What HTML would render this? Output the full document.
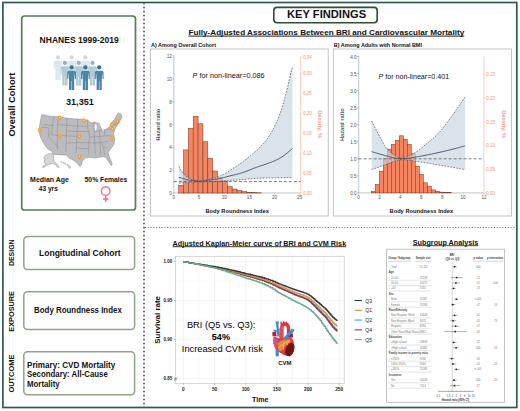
<!DOCTYPE html>
<html><head><meta charset="utf-8"><style>
html,body{margin:0;padding:0;background:#fff;width:520px;height:411px;overflow:hidden}
svg{display:block}
text{font-family:"Liberation Sans", sans-serif}
</style></head><body>
<svg width="520" height="411" viewBox="0 0 520 411" font-family='"Liberation Sans", sans-serif'>
<rect x="0" y="0" width="520" height="411" fill="#fff"/>
<rect x="21.7" y="16.0" width="113.8" height="194.0" rx="2.8" ry="2.8" fill="none" stroke="#557b57" stroke-width="1.7"/>
<rect x="23.8" y="236.4" width="110.8" height="33.0" rx="3.6" ry="3.6" fill="none" stroke="#8fa38a" stroke-width="1.5"/>
<rect x="23.8" y="291.8" width="110.8" height="37.6" rx="3.6" ry="3.6" fill="none" stroke="#8fa38a" stroke-width="1.5"/>
<rect x="23.8" y="351.7" width="110.8" height="43.0" rx="3.6" ry="3.6" fill="none" stroke="#8fa38a" stroke-width="1.5"/>
<text transform="translate(15.0,136.6) rotate(-90)" font-size="9.2" font-weight="bold" fill="#111" text-anchor="start" textLength="63.8" lengthAdjust="spacingAndGlyphs">Overall Cohort</text>
<text transform="translate(13.9,266.1) rotate(-90)" font-size="7.0" font-weight="bold" fill="#111" text-anchor="start" textLength="26.7" lengthAdjust="spacingAndGlyphs">DESIGN</text>
<text transform="translate(13.9,331.7) rotate(-90)" font-size="7.0" font-weight="bold" fill="#111" text-anchor="start" textLength="40.7" lengthAdjust="spacingAndGlyphs">EXPOSURE</text>
<text transform="translate(13.9,392.6) rotate(-90)" font-size="7.0" font-weight="bold" fill="#111" text-anchor="start" textLength="38.0" lengthAdjust="spacingAndGlyphs">OUTCOME</text>
<text x="39.6" y="42.9" font-size="8.5" font-weight="bold" fill="#111" text-anchor="start" textLength="79.2" lengthAdjust="spacingAndGlyphs">NHANES 1999-2019</text>
<g fill="#dbe6ea">
<circle cx="58.0" cy="57.4" r="2.15" fill="#cfdbe0"/>
<path d="M55.4,60.699999999999996 L60.6,60.699999999999996 Q62.4,60.699999999999996 62.4,62.49999999999999 L62.4,68.6 Q62.4,69.19999999999999 61.85,69.19999999999999 Q61.3,69.19999999999999 61.3,68.6 L61.3,63.49999999999999 L61.0,63.49999999999999 L60.6,69.69999999999999 L60.6,79.5 Q60.6,80.0 60.1,80.0 L58.7,80.0 Q58.2,80.0 58.2,79.5 L58.2,70.89999999999999 L57.8,70.89999999999999 L57.8,79.5 Q57.8,80.0 57.3,80.0 L55.9,80.0 Q55.4,80.0 55.4,79.5 L55.4,69.69999999999999 L55.0,63.49999999999999 L54.7,63.49999999999999 L54.7,68.6 Q54.7,69.19999999999999 54.15,69.19999999999999 Q53.6,69.19999999999999 53.6,68.6 L53.6,62.49999999999999 Q53.6,60.699999999999996 55.4,60.699999999999996 Z"/>
</g>
<g fill="#dbe6ea">
<circle cx="71.6" cy="57.4" r="2.15" fill="#cfdbe0"/>
<path d="M69.0,60.699999999999996 L74.19999999999999,60.699999999999996 Q76.0,60.699999999999996 76.0,62.49999999999999 L76.0,68.6 Q76.0,69.19999999999999 75.44999999999999,69.19999999999999 Q74.89999999999999,69.19999999999999 74.89999999999999,68.6 L74.89999999999999,63.49999999999999 L74.6,63.49999999999999 L74.19999999999999,69.69999999999999 L74.19999999999999,79.5 Q74.19999999999999,80.0 73.69999999999999,80.0 L72.3,80.0 Q71.8,80.0 71.8,79.5 L71.8,70.89999999999999 L71.39999999999999,70.89999999999999 L71.39999999999999,79.5 Q71.39999999999999,80.0 70.89999999999999,80.0 L69.5,80.0 Q69.0,80.0 69.0,79.5 L69.0,69.69999999999999 L68.6,63.49999999999999 L68.3,63.49999999999999 L68.3,68.6 Q68.3,69.19999999999999 67.75,69.19999999999999 Q67.19999999999999,69.19999999999999 67.19999999999999,68.6 L67.19999999999999,62.49999999999999 Q67.19999999999999,60.699999999999996 69.0,60.699999999999996 Z"/>
</g>
<g fill="#dbe6ea">
<circle cx="85.3" cy="57.4" r="2.15" fill="#cfdbe0"/>
<path d="M82.7,60.699999999999996 L87.89999999999999,60.699999999999996 Q89.7,60.699999999999996 89.7,62.49999999999999 L89.7,68.6 Q89.7,69.19999999999999 89.14999999999999,69.19999999999999 Q88.6,69.19999999999999 88.6,68.6 L88.6,63.49999999999999 L88.3,63.49999999999999 L87.89999999999999,69.69999999999999 L87.89999999999999,79.5 Q87.89999999999999,80.0 87.39999999999999,80.0 L86.0,80.0 Q85.5,80.0 85.5,79.5 L85.5,70.89999999999999 L85.1,70.89999999999999 L85.1,79.5 Q85.1,80.0 84.6,80.0 L83.2,80.0 Q82.7,80.0 82.7,79.5 L82.7,69.69999999999999 L82.3,63.49999999999999 L82.0,63.49999999999999 L82.0,68.6 Q82.0,69.19999999999999 81.45,69.19999999999999 Q80.89999999999999,69.19999999999999 80.89999999999999,68.6 L80.89999999999999,62.49999999999999 Q80.89999999999999,60.699999999999996 82.7,60.699999999999996 Z"/>
</g>
<g fill="#b0cbd6">
<circle cx="64.9" cy="62.9" r="2.15" fill="#95b2c1"/>
<path d="M62.300000000000004,66.2 L67.5,66.2 Q69.30000000000001,66.2 69.30000000000001,68.0 L69.30000000000001,74.10000000000001 Q69.30000000000001,74.7 68.75,74.7 Q68.2,74.7 68.2,74.10000000000001 L68.2,69.0 L67.9,69.0 L67.5,75.2 L67.5,85.0 Q67.5,85.5 67.0,85.5 L65.60000000000001,85.5 Q65.10000000000001,85.5 65.10000000000001,85.0 L65.10000000000001,76.4 L64.7,76.4 L64.7,85.0 Q64.7,85.5 64.2,85.5 L62.800000000000004,85.5 Q62.300000000000004,85.5 62.300000000000004,85.0 L62.300000000000004,75.2 L61.900000000000006,69.0 L61.60000000000001,69.0 L61.60000000000001,74.10000000000001 Q61.60000000000001,74.7 61.050000000000004,74.7 Q60.50000000000001,74.7 60.50000000000001,74.10000000000001 L60.50000000000001,68.0 Q60.50000000000001,66.2 62.300000000000004,66.2 Z"/>
</g>
<g fill="#b0cbd6">
<circle cx="78.7" cy="62.9" r="2.15" fill="#95b2c1"/>
<path d="M76.10000000000001,66.2 L81.3,66.2 Q83.10000000000001,66.2 83.10000000000001,68.0 L83.10000000000001,74.10000000000001 Q83.10000000000001,74.7 82.55,74.7 Q82.0,74.7 82.0,74.10000000000001 L82.0,69.0 L81.7,69.0 L81.3,75.2 L81.3,85.0 Q81.3,85.5 80.8,85.5 L79.4,85.5 Q78.9,85.5 78.9,85.0 L78.9,76.4 L78.5,76.4 L78.5,85.0 Q78.5,85.5 78.0,85.5 L76.60000000000001,85.5 Q76.10000000000001,85.5 76.10000000000001,85.0 L76.10000000000001,75.2 L75.7,69.0 L75.4,69.0 L75.4,74.10000000000001 Q75.4,74.7 74.85000000000001,74.7 Q74.3,74.7 74.3,74.10000000000001 L74.3,68.0 Q74.3,66.2 76.10000000000001,66.2 Z"/>
</g>
<g fill="#b0cbd6">
<circle cx="92.5" cy="62.9" r="2.15" fill="#95b2c1"/>
<path d="M89.9,66.2 L95.1,66.2 Q96.9,66.2 96.9,68.0 L96.9,74.10000000000001 Q96.9,74.7 96.35,74.7 Q95.8,74.7 95.8,74.10000000000001 L95.8,69.0 L95.5,69.0 L95.1,75.2 L95.1,85.0 Q95.1,85.5 94.6,85.5 L93.2,85.5 Q92.7,85.5 92.7,85.0 L92.7,76.4 L92.3,76.4 L92.3,85.0 Q92.3,85.5 91.8,85.5 L90.4,85.5 Q89.9,85.5 89.9,85.0 L89.9,75.2 L89.5,69.0 L89.2,69.0 L89.2,74.10000000000001 Q89.2,74.7 88.65,74.7 Q88.1,74.7 88.1,74.10000000000001 L88.1,68.0 Q88.1,66.2 89.9,66.2 Z"/>
</g>
<g fill="#4c84ac">
<circle cx="71.6" cy="67.4" r="2.15" fill="#3f7196"/>
<path d="M69.0,70.7 L74.19999999999999,70.7 Q76.0,70.7 76.0,72.5 L76.0,78.60000000000001 Q76.0,79.2 75.44999999999999,79.2 Q74.89999999999999,79.2 74.89999999999999,78.60000000000001 L74.89999999999999,73.5 L74.6,73.5 L74.19999999999999,79.7 L74.19999999999999,89.5 Q74.19999999999999,90.0 73.69999999999999,90.0 L72.3,90.0 Q71.8,90.0 71.8,89.5 L71.8,80.9 L71.39999999999999,80.9 L71.39999999999999,89.5 Q71.39999999999999,90.0 70.89999999999999,90.0 L69.5,90.0 Q69.0,90.0 69.0,89.5 L69.0,79.7 L68.6,73.5 L68.3,73.5 L68.3,78.60000000000001 Q68.3,79.2 67.75,79.2 Q67.19999999999999,79.2 67.19999999999999,78.60000000000001 L67.19999999999999,72.5 Q67.19999999999999,70.7 69.0,70.7 Z"/>
</g>
<g fill="#4c84ac">
<circle cx="85.4" cy="67.4" r="2.15" fill="#3f7196"/>
<path d="M82.80000000000001,70.7 L88.0,70.7 Q89.80000000000001,70.7 89.80000000000001,72.5 L89.80000000000001,78.60000000000001 Q89.80000000000001,79.2 89.25,79.2 Q88.7,79.2 88.7,78.60000000000001 L88.7,73.5 L88.4,73.5 L88.0,79.7 L88.0,89.5 Q88.0,90.0 87.5,90.0 L86.10000000000001,90.0 Q85.60000000000001,90.0 85.60000000000001,89.5 L85.60000000000001,80.9 L85.2,80.9 L85.2,89.5 Q85.2,90.0 84.7,90.0 L83.30000000000001,90.0 Q82.80000000000001,90.0 82.80000000000001,89.5 L82.80000000000001,79.7 L82.4,73.5 L82.10000000000001,73.5 L82.10000000000001,78.60000000000001 Q82.10000000000001,79.2 81.55000000000001,79.2 Q81.0,79.2 81.0,78.60000000000001 L81.0,72.5 Q81.0,70.7 82.80000000000001,70.7 Z"/>
</g>
<g fill="#4c84ac">
<circle cx="99.2" cy="67.4" r="2.15" fill="#3f7196"/>
<path d="M96.60000000000001,70.7 L101.8,70.7 Q103.60000000000001,70.7 103.60000000000001,72.5 L103.60000000000001,78.60000000000001 Q103.60000000000001,79.2 103.05,79.2 Q102.5,79.2 102.5,78.60000000000001 L102.5,73.5 L102.2,73.5 L101.8,79.7 L101.8,89.5 Q101.8,90.0 101.3,90.0 L99.9,90.0 Q99.4,90.0 99.4,89.5 L99.4,80.9 L99.0,80.9 L99.0,89.5 Q99.0,90.0 98.5,90.0 L97.10000000000001,90.0 Q96.60000000000001,90.0 96.60000000000001,89.5 L96.60000000000001,79.7 L96.2,73.5 L95.9,73.5 L95.9,78.60000000000001 Q95.9,79.2 95.35000000000001,79.2 Q94.8,79.2 94.8,78.60000000000001 L94.8,72.5 Q94.8,70.7 96.60000000000001,70.7 Z"/>
</g>
<text x="66.0" y="105.4" font-size="9.9" font-weight="bold" fill="#111" text-anchor="start" textLength="27.8" lengthAdjust="spacingAndGlyphs">31,351</text>
<polygon points="41.60,114.90 43.80,114.70 47.20,115.80 52.80,116.40 58.40,116.80 64.00,117.70 69.60,118.60 75.80,119.00 81.90,119.30 87.80,120.30 89.00,121.40 91.20,123.10 93.40,122.40 94.80,121.90 96.80,123.00 99.60,123.40 99.20,124.80 101.30,128.20 101.40,131.00 103.60,131.20 106.40,129.00 109.70,126.80 111.40,122.60 114.70,119.20 117.00,114.70 118.60,113.00 120.90,114.00 122.00,117.00 119.20,122.40 117.00,125.80 114.70,129.30 113.60,133.80 114.20,137.10 114.70,140.50 113.60,145.00 110.20,149.40 108.00,152.80 109.80,158.10 112.20,163.50 111.40,165.60 108.30,161.40 106.00,157.60 103.70,156.60 99.10,157.30 94.50,158.10 89.10,157.30 85.20,158.10 82.20,161.20 81.40,165.00 79.80,166.50 77.50,163.50 73.70,160.40 69.10,158.10 66.80,155.00 62.20,155.00 52.90,154.20 51.70,151.10 48.30,149.40 45.50,146.10 42.70,141.60 40.50,137.10 39.10,131.50 39.40,127.00 40.50,120.30" fill="#bcbcc0" stroke="#85858a" stroke-width="0.5" stroke-linejoin="round"/>
<polygon points="94.7,124.4 96.4,124.2 96.7,127.2 96.1,130.8 95.0,130.4 94.6,127.5" fill="#fff"/>
<polyline points="43.60,124.60 53.60,125.60" fill="none" stroke="#85858a" stroke-width="0.45" stroke-linejoin="round"/>
<polyline points="53.60,116.30 52.60,125.60 51.60,134.60" fill="none" stroke="#85858a" stroke-width="0.45" stroke-linejoin="round"/>
<polyline points="41.00,127.00 49.00,128.00 48.50,136.50 58.50,147.50" fill="none" stroke="#85858a" stroke-width="0.45" stroke-linejoin="round"/>
<polyline points="51.60,134.60 57.60,135.40" fill="none" stroke="#85858a" stroke-width="0.45" stroke-linejoin="round"/>
<polyline points="57.60,124.60 57.20,135.40 57.40,149.50" fill="none" stroke="#85858a" stroke-width="0.45" stroke-linejoin="round"/>
<polyline points="58.50,117.20 57.60,124.60 66.80,125.40 77.50,126.00 87.60,126.40" fill="none" stroke="#85858a" stroke-width="0.45" stroke-linejoin="round"/>
<polyline points="67.00,117.90 66.80,125.40 66.40,135.60 65.80,151.50" fill="none" stroke="#85858a" stroke-width="0.45" stroke-linejoin="round"/>
<polyline points="57.20,135.40 66.40,135.80 76.80,136.40" fill="none" stroke="#85858a" stroke-width="0.45" stroke-linejoin="round"/>
<polyline points="77.60,118.90 77.50,126.00 76.80,136.40 76.60,142.60 76.00,152.60" fill="none" stroke="#85858a" stroke-width="0.45" stroke-linejoin="round"/>
<polyline points="66.20,143.00 76.60,142.60 88.60,142.60" fill="none" stroke="#85858a" stroke-width="0.45" stroke-linejoin="round"/>
<polyline points="65.80,131.00 78.00,131.40 89.60,131.60" fill="none" stroke="#85858a" stroke-width="0.45" stroke-linejoin="round"/>
<polyline points="87.60,119.60 87.60,126.40 88.40,131.60 89.60,137.00 88.60,142.60 88.90,148.60 88.60,154.40" fill="none" stroke="#85858a" stroke-width="0.45" stroke-linejoin="round"/>
<polyline points="76.00,147.60 82.60,148.60 88.90,148.60" fill="none" stroke="#85858a" stroke-width="0.45" stroke-linejoin="round"/>
<polyline points="89.60,137.00 97.60,136.60 104.60,136.00 111.40,135.60" fill="none" stroke="#85858a" stroke-width="0.45" stroke-linejoin="round"/>
<polyline points="93.60,122.00 94.00,131.60 94.60,137.00 94.80,144.00 95.40,154.40" fill="none" stroke="#85858a" stroke-width="0.45" stroke-linejoin="round"/>
<polyline points="88.60,142.60 94.80,143.00 101.60,142.40 108.80,141.00" fill="none" stroke="#85858a" stroke-width="0.45" stroke-linejoin="round"/>
<polyline points="99.40,130.60 99.60,136.80 100.20,143.00 100.60,154.80" fill="none" stroke="#85858a" stroke-width="0.45" stroke-linejoin="round"/>
<polyline points="94.00,131.60 99.40,130.60 104.60,129.60 110.60,129.00" fill="none" stroke="#85858a" stroke-width="0.45" stroke-linejoin="round"/>
<polyline points="104.60,129.60 104.60,136.00" fill="none" stroke="#85858a" stroke-width="0.45" stroke-linejoin="round"/>
<polyline points="101.60,142.40 103.60,147.60 104.60,155.00" fill="none" stroke="#85858a" stroke-width="0.45" stroke-linejoin="round"/>
<polyline points="103.60,147.60 107.20,147.60" fill="none" stroke="#85858a" stroke-width="0.45" stroke-linejoin="round"/>
<polyline points="110.60,129.00 113.60,128.40" fill="none" stroke="#85858a" stroke-width="0.45" stroke-linejoin="round"/>
<polyline points="112.40,124.60 116.60,124.40" fill="none" stroke="#85858a" stroke-width="0.45" stroke-linejoin="round"/>
<polyline points="114.80,121.40 115.40,126.00" fill="none" stroke="#85858a" stroke-width="0.45" stroke-linejoin="round"/>
<polygon points="45.60,155.20 49.40,153.60 52.90,154.30 53.60,156.00 53.80,161.40 55.60,162.60 59.10,166.80 58.40,168.00 55.00,164.60 52.20,163.40 48.60,164.60 43.00,167.60 42.20,167.00 45.80,164.00 44.00,162.20 44.80,159.60 43.80,157.60" fill="#d6d6d8" stroke="#8a8a8e" stroke-width="0.5" stroke-linejoin="round"/>
<circle cx="61.2" cy="161.8" r="0.55" fill="#d6d6d8" stroke="#8a8a8e" stroke-width="0.4"/>
<circle cx="63.2" cy="162.6" r="0.6" fill="#d6d6d8" stroke="#8a8a8e" stroke-width="0.4"/>
<circle cx="65.2" cy="163.8" r="0.75" fill="#d6d6d8" stroke="#8a8a8e" stroke-width="0.4"/>
<circle cx="67.6" cy="165.2" r="0.85" fill="#d6d6d8" stroke="#8a8a8e" stroke-width="0.4"/>
<circle cx="69.6" cy="167.2" r="1.1" fill="#d6d6d8" stroke="#8a8a8e" stroke-width="0.4"/>
<circle cx="59.6" cy="117.6" r="2.5" fill="#f6b45c" fill-opacity="0.35"/>
<path d="M59.6,120.8 C58.9,119.6 57.7,118.8 57.7,117.6 A1.9,1.9 0 1 1 61.5,117.6 C61.5,118.8 60.300000000000004,119.6 59.6,120.8 Z" fill="#ef9a32"/>
<circle cx="59.6" cy="117.5" r="0.7" fill="#fde6c0"/>
<circle cx="83.9" cy="120.3" r="2.5" fill="#f6b45c" fill-opacity="0.35"/>
<path d="M83.9,123.5 C83.2,122.3 82.0,121.5 82.0,120.3 A1.9,1.9 0 1 1 85.80000000000001,120.3 C85.80000000000001,121.5 84.60000000000001,122.3 83.9,123.5 Z" fill="#ef9a32"/>
<circle cx="83.9" cy="120.2" r="0.7" fill="#fde6c0"/>
<circle cx="39.9" cy="129.8" r="2.5" fill="#f6b45c" fill-opacity="0.35"/>
<path d="M39.9,133.0 C39.199999999999996,131.8 38.0,131.0 38.0,129.8 A1.9,1.9 0 1 1 41.8,129.8 C41.8,131.0 40.6,131.8 39.9,133.0 Z" fill="#ef9a32"/>
<circle cx="39.9" cy="129.70000000000002" r="0.7" fill="#fde6c0"/>
<circle cx="59.9" cy="136.0" r="2.5" fill="#f6b45c" fill-opacity="0.35"/>
<path d="M59.9,139.2 C59.199999999999996,138.0 58.0,137.2 58.0,136.0 A1.9,1.9 0 1 1 61.8,136.0 C61.8,137.2 60.6,138.0 59.9,139.2 Z" fill="#ef9a32"/>
<circle cx="59.9" cy="135.9" r="0.7" fill="#fde6c0"/>
<circle cx="79.6" cy="136.4" r="2.5" fill="#f6b45c" fill-opacity="0.35"/>
<path d="M79.6,139.6 C78.89999999999999,138.4 77.69999999999999,137.6 77.69999999999999,136.4 A1.9,1.9 0 1 1 81.5,136.4 C81.5,137.6 80.3,138.4 79.6,139.6 Z" fill="#ef9a32"/>
<circle cx="79.6" cy="136.3" r="0.7" fill="#fde6c0"/>
<circle cx="111.9" cy="124.8" r="2.5" fill="#f6b45c" fill-opacity="0.35"/>
<path d="M111.9,128.0 C111.2,126.8 110.0,126.0 110.0,124.8 A1.9,1.9 0 1 1 113.80000000000001,124.8 C113.80000000000001,126.0 112.60000000000001,126.8 111.9,128.0 Z" fill="#ef9a32"/>
<circle cx="111.9" cy="124.7" r="0.7" fill="#fde6c0"/>
<circle cx="112.4" cy="128.8" r="2.5" fill="#f6b45c" fill-opacity="0.35"/>
<path d="M112.4,132.0 C111.7,130.8 110.5,130.0 110.5,128.8 A1.9,1.9 0 1 1 114.30000000000001,128.8 C114.30000000000001,130.0 113.10000000000001,130.8 112.4,132.0 Z" fill="#ef9a32"/>
<circle cx="112.4" cy="128.70000000000002" r="0.7" fill="#fde6c0"/>
<circle cx="117.5" cy="121.4" r="2.5" fill="#f6b45c" fill-opacity="0.35"/>
<path d="M117.5,124.60000000000001 C116.8,123.4 115.6,122.60000000000001 115.6,121.4 A1.9,1.9 0 1 1 119.4,121.4 C119.4,122.60000000000001 118.2,123.4 117.5,124.60000000000001 Z" fill="#ef9a32"/>
<circle cx="117.5" cy="121.30000000000001" r="0.7" fill="#fde6c0"/>
<circle cx="111.9" cy="138.2" r="2.5" fill="#f6b45c" fill-opacity="0.35"/>
<path d="M111.9,141.39999999999998 C111.2,140.2 110.0,139.39999999999998 110.0,138.2 A1.9,1.9 0 1 1 113.80000000000001,138.2 C113.80000000000001,139.39999999999998 112.60000000000001,140.2 111.9,141.39999999999998 Z" fill="#ef9a32"/>
<circle cx="111.9" cy="138.1" r="0.7" fill="#fde6c0"/>
<circle cx="79.6" cy="156.6" r="2.5" fill="#f6b45c" fill-opacity="0.35"/>
<path d="M79.6,159.79999999999998 C78.89999999999999,158.6 77.69999999999999,157.79999999999998 77.69999999999999,156.6 A1.9,1.9 0 1 1 81.5,156.6 C81.5,157.79999999999998 80.3,158.6 79.6,159.79999999999998 Z" fill="#ef9a32"/>
<circle cx="79.6" cy="156.5" r="0.7" fill="#fde6c0"/>
<text x="30.1" y="181.9" font-size="7.0" font-weight="bold" fill="#111" text-anchor="start" textLength="38.8" lengthAdjust="spacingAndGlyphs">Median Age</text>
<text x="38.8" y="190.5" font-size="7.0" font-weight="bold" fill="#111" text-anchor="start" textLength="19.0" lengthAdjust="spacingAndGlyphs">43 yrs</text>
<text x="84.6" y="181.9" font-size="7.0" font-weight="bold" fill="#111" text-anchor="start" textLength="42.7" lengthAdjust="spacingAndGlyphs">50% Females</text>
<circle cx="105.7" cy="191.1" r="4.3" fill="none" stroke="#e36d86" stroke-width="1.35"/>
<line x1="105.7" y1="195.6" x2="105.7" y2="201.8" stroke="#e36d86" stroke-width="1.5"/>
<line x1="103.0" y1="199.0" x2="108.5" y2="199.0" stroke="#e36d86" stroke-width="1.5"/>
<text x="39.0" y="255.7" font-size="8.5" font-weight="bold" fill="#111" text-anchor="start" textLength="81.6" lengthAdjust="spacingAndGlyphs">Longitudinal Cohort</text>
<text x="34.1" y="312.6" font-size="8.9" font-weight="bold" fill="#111" text-anchor="start" textLength="87.7" lengthAdjust="spacingAndGlyphs">Body Roundness Index</text>
<text x="27.0" y="367.5" font-size="8.4" font-weight="bold" fill="#111" text-anchor="start" textLength="88.3" lengthAdjust="spacingAndGlyphs">Primary: CVD Mortality</text>
<text x="27.0" y="377.4" font-size="8.4" font-weight="bold" fill="#111" text-anchor="start" textLength="80.8" lengthAdjust="spacingAndGlyphs">Secondary: All-Cause</text>
<text x="27.0" y="387.1" font-size="8.4" font-weight="bold" fill="#111" text-anchor="start" textLength="32.7" lengthAdjust="spacingAndGlyphs">Mortality</text>
<line x1="144" y1="2.75" x2="144" y2="406.5" stroke="#333" stroke-width="1.4" stroke-dasharray="1.5,2.5"/>
<line x1="145" y1="227.5" x2="516" y2="227.5" stroke="#555" stroke-width="0.9" stroke-dasharray="1,1.77"/>
<rect x="273.8" y="7.4" width="103.4" height="15.3" rx="3.2" ry="3.2" fill="#fff" stroke="#2e4d33" stroke-width="1.6"/>
<text x="287.0" y="18.0" font-size="10.7" font-weight="bold" fill="#111" text-anchor="start" textLength="79.1" lengthAdjust="spacingAndGlyphs">KEY FINDINGS</text>
<text x="188.5" y="34.7" font-size="7.9" font-weight="bold" fill="#111" text-anchor="start" textLength="275.7" lengthAdjust="spacingAndGlyphs">Fully-Adjusted Associations Between BRI and Cardiovascular Mortality</text>
<line x1="188.5" y1="36.1" x2="464.2" y2="36.1" stroke="#111" stroke-width="0.95"/>
<text x="151.0" y="47.4" font-size="5.4" font-weight="bold" fill="#111" text-anchor="start" textLength="65.0" lengthAdjust="spacingAndGlyphs">A) Among Overall Cohort</text>
<text x="333.8" y="47.3" font-size="5.4" font-weight="bold" fill="#111" text-anchor="start" textLength="88.1" lengthAdjust="spacingAndGlyphs">B) Among Adults with Normal BMI</text>
<rect x="150.4" y="49.0" width="177.8" height="167.0" fill="none" stroke="#b6b6b6" stroke-width="0.8"/>
<rect x="333.3" y="49.0" width="178.2" height="167.0" fill="none" stroke="#b6b6b6" stroke-width="0.8"/>
<line x1="173.8" y1="55.5" x2="173.8" y2="193.0" stroke="#cdd4dc" stroke-width="1.4"/>
<line x1="173.8" y1="193.0" x2="300.6" y2="193.0" stroke="#9a9a9a" stroke-width="0.6"/>
<line x1="300.6" y1="56.5" x2="300.6" y2="193.0" stroke="#f7b9a6" stroke-width="0.7"/>
<line x1="172.5" y1="193.00" x2="173.60000000000002" y2="193.00" stroke="#666" stroke-width="0.6"/>
<text x="171.8" y="195.1" font-size="4.6" fill="#505050" text-anchor="end">0</text>
<line x1="172.5" y1="170.16" x2="173.60000000000002" y2="170.16" stroke="#666" stroke-width="0.6"/>
<text x="171.8" y="172.26" font-size="4.6" fill="#505050" text-anchor="end">2</text>
<line x1="172.5" y1="147.32" x2="173.60000000000002" y2="147.32" stroke="#666" stroke-width="0.6"/>
<text x="171.8" y="149.42" font-size="4.6" fill="#505050" text-anchor="end">4</text>
<line x1="172.5" y1="124.48" x2="173.60000000000002" y2="124.48" stroke="#666" stroke-width="0.6"/>
<text x="171.8" y="126.58" font-size="4.6" fill="#505050" text-anchor="end">6</text>
<line x1="172.5" y1="101.64" x2="173.60000000000002" y2="101.64" stroke="#666" stroke-width="0.6"/>
<text x="171.8" y="103.74" font-size="4.6" fill="#505050" text-anchor="end">8</text>
<line x1="172.5" y1="78.80" x2="173.60000000000002" y2="78.80" stroke="#666" stroke-width="0.6"/>
<text x="171.8" y="80.9" font-size="4.6" fill="#505050" text-anchor="end">10</text>
<line x1="172.5" y1="55.96" x2="173.60000000000002" y2="55.96" stroke="#666" stroke-width="0.6"/>
<text x="171.8" y="58.06" font-size="4.6" fill="#505050" text-anchor="end">12</text>
<line x1="173.80" y1="193.0" x2="173.80" y2="194.4" stroke="#9a9a9a" stroke-width="0.5"/>
<text x="173.8" y="199.3" font-size="4.6" fill="#505050" text-anchor="middle">0</text>
<line x1="199.00" y1="193.0" x2="199.00" y2="194.4" stroke="#9a9a9a" stroke-width="0.5"/>
<text x="199.0" y="199.3" font-size="4.6" fill="#505050" text-anchor="middle">5</text>
<line x1="224.20" y1="193.0" x2="224.20" y2="194.4" stroke="#9a9a9a" stroke-width="0.5"/>
<text x="224.2" y="199.3" font-size="4.6" fill="#505050" text-anchor="middle">10</text>
<line x1="249.40" y1="193.0" x2="249.40" y2="194.4" stroke="#9a9a9a" stroke-width="0.5"/>
<text x="249.4" y="199.3" font-size="4.6" fill="#505050" text-anchor="middle">15</text>
<line x1="274.60" y1="193.0" x2="274.60" y2="194.4" stroke="#9a9a9a" stroke-width="0.5"/>
<text x="274.6" y="199.3" font-size="4.6" fill="#505050" text-anchor="middle">20</text>
<line x1="299.80" y1="193.0" x2="299.80" y2="194.4" stroke="#9a9a9a" stroke-width="0.5"/>
<text x="299.8" y="199.3" font-size="4.6" fill="#505050" text-anchor="middle">25</text>
<line x1="300.6" y1="193.00" x2="302.1" y2="193.00" stroke="#f7b9a6" stroke-width="0.5"/>
<text x="302.9" y="194.6" font-size="4.5" fill="#f0937a" text-anchor="start">0.00</text>
<line x1="300.6" y1="173.05" x2="302.1" y2="173.05" stroke="#f7b9a6" stroke-width="0.5"/>
<text x="302.9" y="174.65" font-size="4.5" fill="#f0937a" text-anchor="start">0.05</text>
<line x1="300.6" y1="153.10" x2="302.1" y2="153.10" stroke="#f7b9a6" stroke-width="0.5"/>
<text x="302.9" y="154.7" font-size="4.5" fill="#f0937a" text-anchor="start">0.10</text>
<line x1="300.6" y1="133.15" x2="302.1" y2="133.15" stroke="#f7b9a6" stroke-width="0.5"/>
<text x="302.9" y="134.75" font-size="4.5" fill="#f0937a" text-anchor="start">0.15</text>
<line x1="300.6" y1="113.20" x2="302.1" y2="113.20" stroke="#f7b9a6" stroke-width="0.5"/>
<text x="302.9" y="114.8" font-size="4.5" fill="#f0937a" text-anchor="start">0.20</text>
<line x1="300.6" y1="93.25" x2="302.1" y2="93.25" stroke="#f7b9a6" stroke-width="0.5"/>
<text x="302.9" y="94.85" font-size="4.5" fill="#f0937a" text-anchor="start">0.25</text>
<line x1="300.6" y1="73.30" x2="302.1" y2="73.30" stroke="#f7b9a6" stroke-width="0.5"/>
<text x="302.9" y="74.9" font-size="4.5" fill="#f0937a" text-anchor="start">0.30</text>
<text x="302.9" y="58.8" font-size="4.5" fill="#f0937a" text-anchor="start">0.34</text>
<line x1="300.6" y1="57.2" x2="302.1" y2="57.2" stroke="#f7b9a6" stroke-width="0.5"/>
<text transform="translate(160.1,140.6) rotate(-90)" font-size="5.3" font-weight="bold" fill="#44566b" text-anchor="start" textLength="31.8" lengthAdjust="spacingAndGlyphs">Hazard ratio</text>
<text transform="translate(318.3,110.2) rotate(90)" font-size="5.8" font-weight="bold" fill="#f29c88" text-anchor="start" textLength="27.8" lengthAdjust="spacingAndGlyphs">Density, %</text>
<text x="192.6" y="77.8" font-size="7.2" font-style="italic" fill="#111" text-anchor="start">P</text>
<text x="199.5" y="77.8" font-size="7.2" fill="#111" text-anchor="start" textLength="65.1" lengthAdjust="spacingAndGlyphs">for non-linear=0.086</text>
<rect x="178.60" y="185.20" width="4.87" height="7.80" fill="#f58560" stroke="#6a3426" stroke-width="0.5"/>
<rect x="183.47" y="149.90" width="4.87" height="43.10" fill="#f58560" stroke="#6a3426" stroke-width="0.5"/>
<rect x="188.34" y="128.20" width="4.87" height="64.80" fill="#f58560" stroke="#6a3426" stroke-width="0.5"/>
<rect x="193.21" y="116.30" width="4.87" height="76.70" fill="#f58560" stroke="#6a3426" stroke-width="0.5"/>
<rect x="198.08" y="123.80" width="4.87" height="69.20" fill="#f58560" stroke="#6a3426" stroke-width="0.5"/>
<rect x="202.95" y="141.80" width="4.87" height="51.20" fill="#f58560" stroke="#6a3426" stroke-width="0.5"/>
<rect x="207.82" y="158.40" width="4.87" height="34.60" fill="#f58560" stroke="#6a3426" stroke-width="0.5"/>
<rect x="212.69" y="171.00" width="4.87" height="22.00" fill="#f58560" stroke="#6a3426" stroke-width="0.5"/>
<rect x="217.56" y="177.40" width="4.87" height="15.60" fill="#f58560" stroke="#6a3426" stroke-width="0.5"/>
<rect x="222.43" y="181.00" width="4.87" height="12.00" fill="#f58560" stroke="#6a3426" stroke-width="0.5"/>
<rect x="227.30" y="186.60" width="4.87" height="6.40" fill="#f58560" stroke="#6a3426" stroke-width="0.5"/>
<rect x="232.17" y="189.00" width="4.87" height="4.00" fill="#f58560" stroke="#6a3426" stroke-width="0.5"/>
<rect x="237.04" y="190.50" width="4.87" height="2.50" fill="#f58560" stroke="#6a3426" stroke-width="0.5"/>
<rect x="241.91" y="191.70" width="4.87" height="1.30" fill="#f58560" stroke="#6a3426" stroke-width="0.5"/>
<rect x="246.78" y="192.30" width="4.87" height="0.70" fill="#f58560" stroke="#6a3426" stroke-width="0.5"/>
<rect x="251.65" y="192.60" width="4.87" height="0.40" fill="#f58560" stroke="#6a3426" stroke-width="0.5"/>
<rect x="256.52" y="192.80" width="4.87" height="0.20" fill="#f58560" stroke="#6a3426" stroke-width="0.5"/>
<polygon points="178.84,166.16 179.79,167.93 180.73,169.62 181.68,171.19 182.63,172.59 183.58,173.81 184.52,174.83 185.47,175.72 186.42,176.50 187.36,177.19 188.31,177.79 189.26,178.34 190.21,178.83 191.15,179.27 192.10,179.64 193.05,179.96 193.99,180.22 194.94,180.43 195.89,180.59 196.83,180.70 197.78,180.77 198.73,180.79 199.68,180.76 200.62,180.70 201.57,180.61 202.52,180.50 203.46,180.37 204.41,180.23 205.36,180.07 206.31,179.91 207.25,179.74 208.20,179.57 209.15,179.38 210.09,179.18 211.04,178.98 211.99,178.75 212.94,178.52 213.88,178.26 214.83,177.99 215.78,177.70 216.72,177.38 217.67,177.02 218.62,176.64 219.57,176.23 220.51,175.79 221.46,175.34 222.41,174.87 223.35,174.38 224.30,173.89 225.25,173.38 226.20,172.84 227.14,172.28 228.09,171.70 229.04,171.10 229.98,170.49 230.93,169.87 231.88,169.26 232.82,168.64 233.77,168.03 234.72,167.41 235.67,166.79 236.61,166.16 237.56,165.53 238.51,164.89 239.45,164.24 240.40,163.58 241.35,162.90 242.30,162.21 243.24,161.51 244.19,160.78 245.14,160.04 246.08,159.29 247.03,158.53 247.98,157.76 248.93,156.99 249.87,156.22 250.82,155.45 251.77,154.67 252.71,153.89 253.66,153.09 254.61,152.29 255.56,151.47 256.50,150.62 257.45,149.75 258.40,148.84 259.34,147.90 260.29,146.91 261.24,145.91 262.18,144.88 263.13,143.82 264.08,142.73 265.03,141.59 265.97,140.41 266.92,139.17 267.87,137.87 268.81,136.50 269.76,135.05 270.71,133.52 271.66,131.93 272.60,130.25 273.55,128.49 274.50,126.65 275.44,124.71 276.39,122.67 277.34,120.53 278.29,118.28 279.23,115.91 280.18,113.36 281.13,110.60 282.07,107.64 283.02,104.49 283.97,101.17 284.92,97.71 285.86,94.14 286.81,90.47 287.76,86.64 288.70,82.63 289.65,78.43 290.60,74.07 291.54,69.55 292.49,67.38 292.49,177.36 291.54,177.38 290.60,177.41 289.65,177.43 288.70,177.45 287.76,177.48 286.81,177.50 285.86,177.52 284.92,177.54 283.97,177.56 283.02,177.59 282.07,177.61 281.13,177.63 280.18,177.66 279.23,177.68 278.29,177.71 277.34,177.73 276.39,177.76 275.44,177.79 274.50,177.81 273.55,177.84 272.60,177.87 271.66,177.89 270.71,177.92 269.76,177.94 268.81,177.97 267.87,177.99 266.92,178.02 265.97,178.04 265.03,178.07 264.08,178.10 263.13,178.13 262.18,178.16 261.24,178.19 260.29,178.23 259.34,178.27 258.40,178.31 257.45,178.36 256.50,178.41 255.56,178.46 254.61,178.52 253.66,178.58 252.71,178.65 251.77,178.72 250.82,178.79 249.87,178.87 248.93,178.95 247.98,179.04 247.03,179.12 246.08,179.21 245.14,179.29 244.19,179.38 243.24,179.47 242.30,179.55 241.35,179.64 240.40,179.72 239.45,179.80 238.51,179.89 237.56,179.96 236.61,180.04 235.67,180.11 234.72,180.18 233.77,180.24 232.82,180.31 231.88,180.37 230.93,180.43 229.98,180.49 229.04,180.55 228.09,180.61 227.14,180.67 226.20,180.73 225.25,180.78 224.30,180.84 223.35,180.89 222.41,180.94 221.46,180.99 220.51,181.04 219.57,181.09 218.62,181.14 217.67,181.19 216.72,181.23 215.78,181.28 214.83,181.32 213.88,181.36 212.94,181.40 211.99,181.44 211.04,181.47 210.09,181.50 209.15,181.53 208.20,181.55 207.25,181.58 206.31,181.60 205.36,181.62 204.41,181.65 203.46,181.67 202.52,181.70 201.57,181.72 200.62,181.75 199.68,181.78 198.73,181.82 197.78,181.85 196.83,181.89 195.89,181.92 194.94,181.96 193.99,181.99 193.05,182.03 192.10,182.08 191.15,182.13 190.21,182.18 189.26,182.24 188.31,182.31 187.36,182.38 186.42,182.46 185.47,182.55 184.52,182.64 183.58,182.73 182.63,182.82 181.68,182.92 180.73,183.01 179.79,183.09 178.84,183.18" fill="#c6d4de" fill-opacity="0.65"/>
<line x1="173.8" y1="181.58" x2="300.6" y2="181.58" stroke="#555" stroke-width="0.75" stroke-dasharray="3,2"/>
<polyline points="178.84,166.16 179.79,167.93 180.73,169.62 181.68,171.19 182.63,172.59 183.58,173.81 184.52,174.83 185.47,175.72 186.42,176.50 187.36,177.19 188.31,177.79 189.26,178.34 190.21,178.83 191.15,179.27 192.10,179.64 193.05,179.96 193.99,180.22 194.94,180.43 195.89,180.59 196.83,180.70 197.78,180.77 198.73,180.79 199.68,180.76 200.62,180.70 201.57,180.61 202.52,180.50 203.46,180.37 204.41,180.23 205.36,180.07 206.31,179.91 207.25,179.74 208.20,179.57 209.15,179.38 210.09,179.18 211.04,178.98 211.99,178.75 212.94,178.52 213.88,178.26 214.83,177.99 215.78,177.70 216.72,177.38 217.67,177.02 218.62,176.64 219.57,176.23 220.51,175.79 221.46,175.34 222.41,174.87 223.35,174.38 224.30,173.89 225.25,173.38 226.20,172.84 227.14,172.28 228.09,171.70 229.04,171.10 229.98,170.49 230.93,169.87 231.88,169.26 232.82,168.64 233.77,168.03 234.72,167.41 235.67,166.79 236.61,166.16 237.56,165.53 238.51,164.89 239.45,164.24 240.40,163.58 241.35,162.90 242.30,162.21 243.24,161.51 244.19,160.78 245.14,160.04 246.08,159.29 247.03,158.53 247.98,157.76 248.93,156.99 249.87,156.22 250.82,155.45 251.77,154.67 252.71,153.89 253.66,153.09 254.61,152.29 255.56,151.47 256.50,150.62 257.45,149.75 258.40,148.84 259.34,147.90 260.29,146.91 261.24,145.91 262.18,144.88 263.13,143.82 264.08,142.73 265.03,141.59 265.97,140.41 266.92,139.17 267.87,137.87 268.81,136.50 269.76,135.05 270.71,133.52 271.66,131.93 272.60,130.25 273.55,128.49 274.50,126.65 275.44,124.71 276.39,122.67 277.34,120.53 278.29,118.28 279.23,115.91 280.18,113.36 281.13,110.60 282.07,107.64 283.02,104.49 283.97,101.17 284.92,97.71 285.86,94.14 286.81,90.47 287.76,86.64 288.70,82.63 289.65,78.43 290.60,74.07 291.54,69.55 292.49,67.38" fill="none" stroke="#3e4c5a" stroke-width="0.7" stroke-dasharray="1.7,1.3"/>
<polyline points="178.84,183.18 179.79,183.09 180.73,183.01 181.68,182.92 182.63,182.82 183.58,182.73 184.52,182.64 185.47,182.55 186.42,182.46 187.36,182.38 188.31,182.31 189.26,182.24 190.21,182.18 191.15,182.13 192.10,182.08 193.05,182.03 193.99,181.99 194.94,181.96 195.89,181.92 196.83,181.89 197.78,181.85 198.73,181.82 199.68,181.78 200.62,181.75 201.57,181.72 202.52,181.70 203.46,181.67 204.41,181.65 205.36,181.62 206.31,181.60 207.25,181.58 208.20,181.55 209.15,181.53 210.09,181.50 211.04,181.47 211.99,181.44 212.94,181.40 213.88,181.36 214.83,181.32 215.78,181.28 216.72,181.23 217.67,181.19 218.62,181.14 219.57,181.09 220.51,181.04 221.46,180.99 222.41,180.94 223.35,180.89 224.30,180.84 225.25,180.78 226.20,180.73 227.14,180.67 228.09,180.61 229.04,180.55 229.98,180.49 230.93,180.43 231.88,180.37 232.82,180.31 233.77,180.24 234.72,180.18 235.67,180.11 236.61,180.04 237.56,179.96 238.51,179.89 239.45,179.80 240.40,179.72 241.35,179.64 242.30,179.55 243.24,179.47 244.19,179.38 245.14,179.29 246.08,179.21 247.03,179.12 247.98,179.04 248.93,178.95 249.87,178.87 250.82,178.79 251.77,178.72 252.71,178.65 253.66,178.58 254.61,178.52 255.56,178.46 256.50,178.41 257.45,178.36 258.40,178.31 259.34,178.27 260.29,178.23 261.24,178.19 262.18,178.16 263.13,178.13 264.08,178.10 265.03,178.07 265.97,178.04 266.92,178.02 267.87,177.99 268.81,177.97 269.76,177.94 270.71,177.92 271.66,177.89 272.60,177.87 273.55,177.84 274.50,177.81 275.44,177.79 276.39,177.76 277.34,177.73 278.29,177.71 279.23,177.68 280.18,177.66 281.13,177.63 282.07,177.61 283.02,177.59 283.97,177.56 284.92,177.54 285.86,177.52 286.81,177.50 287.76,177.48 288.70,177.45 289.65,177.43 290.60,177.41 291.54,177.38 292.49,177.36" fill="none" stroke="#3e4c5a" stroke-width="0.7" stroke-dasharray="1.7,1.3"/>
<polyline points="178.84,177.24 179.79,177.56 180.73,177.88 181.68,178.19 182.63,178.48 183.58,178.76 184.52,179.01 185.47,179.26 186.42,179.50 187.36,179.73 188.31,179.94 189.26,180.13 190.21,180.29 191.15,180.43 192.10,180.57 193.05,180.70 193.99,180.82 194.94,180.93 195.89,181.03 196.83,181.11 197.78,181.18 198.73,181.22 199.68,181.24 200.62,181.22 201.57,181.16 202.52,181.08 203.46,180.96 204.41,180.84 205.36,180.71 206.31,180.58 207.25,180.47 208.20,180.35 209.15,180.22 210.09,180.10 211.04,179.97 211.99,179.84 212.94,179.70 213.88,179.56 214.83,179.41 215.78,179.26 216.72,179.09 217.67,178.92 218.62,178.74 219.57,178.54 220.51,178.33 221.46,178.11 222.41,177.87 223.35,177.63 224.30,177.38 225.25,177.13 226.20,176.88 227.14,176.62 228.09,176.37 229.04,176.13 229.98,175.89 230.93,175.66 231.88,175.43 232.82,175.21 233.77,174.99 234.72,174.77 235.67,174.55 236.61,174.33 237.56,174.09 238.51,173.85 239.45,173.60 240.40,173.33 241.35,173.05 242.30,172.74 243.24,172.42 244.19,172.09 245.14,171.74 246.08,171.38 247.03,171.01 247.98,170.63 248.93,170.25 249.87,169.87 250.82,169.48 251.77,169.10 252.71,168.72 253.66,168.35 254.61,168.00 255.56,167.66 256.50,167.32 257.45,166.99 258.40,166.66 259.34,166.33 260.29,166.01 261.24,165.68 262.18,165.36 263.13,165.04 264.08,164.72 265.03,164.40 265.97,164.07 266.92,163.74 267.87,163.40 268.81,163.06 269.76,162.71 270.71,162.36 271.66,161.99 272.60,161.61 273.55,161.22 274.50,160.82 275.44,160.40 276.39,159.96 277.34,159.51 278.29,159.03 279.23,158.53 280.18,157.99 281.13,157.42 282.07,156.80 283.02,156.15 283.97,155.48 284.92,154.77 285.86,154.03 286.81,153.28 287.76,152.50 288.70,151.71 289.65,150.90 290.60,150.09 291.54,149.27 292.49,148.45" fill="none" stroke="#34495f" stroke-width="0.9"/>
<text x="237.2" y="212.6" font-size="5.9" font-weight="bold" fill="#111" text-anchor="middle" textLength="63.5" lengthAdjust="spacingAndGlyphs">Body Roundness Index</text>
<line x1="358.6" y1="55.5" x2="358.6" y2="192.9" stroke="#cdd4dc" stroke-width="1.4"/>
<line x1="358.6" y1="192.9" x2="484.0" y2="192.9" stroke="#9a9a9a" stroke-width="0.6"/>
<line x1="483.9" y1="56.5" x2="483.9" y2="192.9" stroke="#f7b9a6" stroke-width="0.7"/>
<line x1="357.3" y1="192.90" x2="358.40000000000003" y2="192.90" stroke="#666" stroke-width="0.6"/>
<text x="356.6" y="195.0" font-size="4.6" fill="#505050" text-anchor="end">0.0</text>
<line x1="357.3" y1="175.85" x2="358.40000000000003" y2="175.85" stroke="#666" stroke-width="0.6"/>
<text x="356.6" y="177.95" font-size="4.6" fill="#505050" text-anchor="end">0.5</text>
<line x1="357.3" y1="158.80" x2="358.40000000000003" y2="158.80" stroke="#666" stroke-width="0.6"/>
<text x="356.6" y="160.9" font-size="4.6" fill="#505050" text-anchor="end">1.0</text>
<line x1="357.3" y1="141.75" x2="358.40000000000003" y2="141.75" stroke="#666" stroke-width="0.6"/>
<text x="356.6" y="143.85" font-size="4.6" fill="#505050" text-anchor="end">1.5</text>
<line x1="357.3" y1="124.70" x2="358.40000000000003" y2="124.70" stroke="#666" stroke-width="0.6"/>
<text x="356.6" y="126.8" font-size="4.6" fill="#505050" text-anchor="end">2.0</text>
<line x1="357.3" y1="107.65" x2="358.40000000000003" y2="107.65" stroke="#666" stroke-width="0.6"/>
<text x="356.6" y="109.75" font-size="4.6" fill="#505050" text-anchor="end">2.5</text>
<line x1="357.3" y1="90.60" x2="358.40000000000003" y2="90.60" stroke="#666" stroke-width="0.6"/>
<text x="356.6" y="92.7" font-size="4.6" fill="#505050" text-anchor="end">3.0</text>
<line x1="357.3" y1="73.55" x2="358.40000000000003" y2="73.55" stroke="#666" stroke-width="0.6"/>
<text x="356.6" y="75.65" font-size="4.6" fill="#505050" text-anchor="end">3.5</text>
<line x1="357.3" y1="56.50" x2="358.40000000000003" y2="56.50" stroke="#666" stroke-width="0.6"/>
<text x="356.6" y="58.6" font-size="4.6" fill="#505050" text-anchor="end">4.0</text>
<line x1="358.60" y1="192.9" x2="358.60" y2="194.3" stroke="#9a9a9a" stroke-width="0.5"/>
<text x="358.6" y="199.3" font-size="4.6" fill="#505050" text-anchor="middle">0</text>
<line x1="379.50" y1="192.9" x2="379.50" y2="194.3" stroke="#9a9a9a" stroke-width="0.5"/>
<text x="379.5" y="199.3" font-size="4.6" fill="#505050" text-anchor="middle">2</text>
<line x1="400.40" y1="192.9" x2="400.40" y2="194.3" stroke="#9a9a9a" stroke-width="0.5"/>
<text x="400.4" y="199.3" font-size="4.6" fill="#505050" text-anchor="middle">4</text>
<line x1="421.30" y1="192.9" x2="421.30" y2="194.3" stroke="#9a9a9a" stroke-width="0.5"/>
<text x="421.3" y="199.3" font-size="4.6" fill="#505050" text-anchor="middle">6</text>
<line x1="442.20" y1="192.9" x2="442.20" y2="194.3" stroke="#9a9a9a" stroke-width="0.5"/>
<text x="442.2" y="199.3" font-size="4.6" fill="#505050" text-anchor="middle">8</text>
<line x1="463.10" y1="192.9" x2="463.10" y2="194.3" stroke="#9a9a9a" stroke-width="0.5"/>
<text x="463.1" y="199.3" font-size="4.6" fill="#505050" text-anchor="middle">10</text>
<line x1="484.00" y1="192.9" x2="484.00" y2="194.3" stroke="#9a9a9a" stroke-width="0.5"/>
<text x="484.0" y="199.3" font-size="4.6" fill="#505050" text-anchor="middle">12</text>
<line x1="483.9" y1="192.90" x2="485.4" y2="192.90" stroke="#f7b9a6" stroke-width="0.5"/>
<text x="486.2" y="194.5" font-size="4.5" fill="#f0937a" text-anchor="start">0.00</text>
<line x1="483.9" y1="169.25" x2="485.4" y2="169.25" stroke="#f7b9a6" stroke-width="0.5"/>
<text x="486.2" y="170.85" font-size="4.5" fill="#f0937a" text-anchor="start">0.05</text>
<line x1="483.9" y1="145.60" x2="485.4" y2="145.60" stroke="#f7b9a6" stroke-width="0.5"/>
<text x="486.2" y="147.2" font-size="4.5" fill="#f0937a" text-anchor="start">0.10</text>
<line x1="483.9" y1="121.95" x2="485.4" y2="121.95" stroke="#f7b9a6" stroke-width="0.5"/>
<text x="486.2" y="123.55" font-size="4.5" fill="#f0937a" text-anchor="start">0.15</text>
<line x1="483.9" y1="98.30" x2="485.4" y2="98.30" stroke="#f7b9a6" stroke-width="0.5"/>
<text x="486.2" y="99.9" font-size="4.5" fill="#f0937a" text-anchor="start">0.20</text>
<line x1="483.9" y1="74.65" x2="485.4" y2="74.65" stroke="#f7b9a6" stroke-width="0.5"/>
<text x="486.2" y="76.25" font-size="4.5" fill="#f0937a" text-anchor="start">0.25</text>
<text transform="translate(343.7,141.0) rotate(-90)" font-size="5.3" font-weight="bold" fill="#44566b" text-anchor="start" textLength="32.6" lengthAdjust="spacingAndGlyphs">Hazard ratio</text>
<text transform="translate(502.1,110.2) rotate(90)" font-size="5.8" font-weight="bold" fill="#f29c88" text-anchor="start" textLength="27.8" lengthAdjust="spacingAndGlyphs">Density, %</text>
<text x="378.5" y="78.7" font-size="7.2" font-style="italic" fill="#111" text-anchor="start">P</text>
<text x="385.2" y="78.7" font-size="7.2" fill="#111" text-anchor="start" textLength="64.0" lengthAdjust="spacingAndGlyphs">for non-linear=0.401</text>
<rect x="371.30" y="191.60" width="4.00" height="1.30" fill="#f58560" stroke="#6a3426" stroke-width="0.5"/>
<rect x="375.30" y="184.50" width="4.00" height="8.40" fill="#f58560" stroke="#6a3426" stroke-width="0.5"/>
<rect x="379.30" y="171.20" width="4.00" height="21.70" fill="#f58560" stroke="#6a3426" stroke-width="0.5"/>
<rect x="383.30" y="158.10" width="4.00" height="34.80" fill="#f58560" stroke="#6a3426" stroke-width="0.5"/>
<rect x="387.30" y="149.10" width="4.00" height="43.80" fill="#f58560" stroke="#6a3426" stroke-width="0.5"/>
<rect x="391.30" y="144.30" width="4.00" height="48.60" fill="#f58560" stroke="#6a3426" stroke-width="0.5"/>
<rect x="395.30" y="140.20" width="4.00" height="52.70" fill="#f58560" stroke="#6a3426" stroke-width="0.5"/>
<rect x="399.30" y="135.80" width="4.00" height="57.10" fill="#f58560" stroke="#6a3426" stroke-width="0.5"/>
<rect x="403.30" y="139.50" width="4.00" height="53.40" fill="#f58560" stroke="#6a3426" stroke-width="0.5"/>
<rect x="407.30" y="144.30" width="4.00" height="48.60" fill="#f58560" stroke="#6a3426" stroke-width="0.5"/>
<rect x="411.30" y="153.80" width="4.00" height="39.10" fill="#f58560" stroke="#6a3426" stroke-width="0.5"/>
<rect x="415.30" y="166.10" width="4.00" height="26.80" fill="#f58560" stroke="#6a3426" stroke-width="0.5"/>
<rect x="419.30" y="174.30" width="4.00" height="18.60" fill="#f58560" stroke="#6a3426" stroke-width="0.5"/>
<rect x="423.30" y="182.80" width="4.00" height="10.10" fill="#f58560" stroke="#6a3426" stroke-width="0.5"/>
<rect x="427.30" y="186.20" width="4.00" height="6.70" fill="#f58560" stroke="#6a3426" stroke-width="0.5"/>
<rect x="431.30" y="189.90" width="4.00" height="3.00" fill="#f58560" stroke="#6a3426" stroke-width="0.5"/>
<rect x="435.30" y="191.30" width="4.00" height="1.60" fill="#f58560" stroke="#6a3426" stroke-width="0.5"/>
<rect x="439.30" y="192.10" width="4.00" height="0.80" fill="#f58560" stroke="#6a3426" stroke-width="0.5"/>
<rect x="443.30" y="192.50" width="4.00" height="0.40" fill="#f58560" stroke="#6a3426" stroke-width="0.5"/>
<rect x="447.30" y="192.70" width="4.00" height="0.20" fill="#f58560" stroke="#6a3426" stroke-width="0.5"/>
<polygon points="371.66,120.95 372.60,122.79 373.53,124.66 374.47,126.54 375.40,128.41 376.34,130.27 377.27,132.10 378.21,133.90 379.14,135.65 380.08,137.36 381.02,139.10 381.95,140.85 382.89,142.56 383.82,144.20 384.76,145.72 385.69,147.09 386.63,148.25 387.56,149.24 388.50,150.19 389.43,151.11 390.37,152.00 391.30,152.85 392.24,153.66 393.17,154.42 394.11,155.12 395.04,155.77 395.98,156.36 396.91,156.87 397.85,157.32 398.79,157.68 399.72,157.97 400.66,158.16 401.59,158.25 402.53,158.22 403.46,158.10 404.40,157.90 405.33,157.61 406.27,157.26 407.20,156.86 408.14,156.41 409.07,155.93 410.01,155.42 410.94,154.90 411.88,154.38 412.81,153.86 413.75,153.36 414.69,152.83 415.62,152.27 416.56,151.67 417.49,151.03 418.43,150.37 419.36,149.68 420.30,148.96 421.23,148.23 422.17,147.48 423.10,146.71 424.04,145.93 424.97,145.15 425.91,144.36 426.84,143.59 427.78,142.81 428.71,142.04 429.65,141.27 430.58,140.49 431.52,139.70 432.46,138.89 433.39,138.07 434.33,137.23 435.26,136.37 436.20,135.48 437.13,134.56 438.07,133.60 439.00,132.61 439.94,131.57 440.87,130.49 441.81,129.37 442.74,128.22 443.68,127.05 444.61,125.85 445.55,124.64 446.48,123.41 447.42,122.15 448.36,120.89 449.29,119.60 450.23,118.31 451.16,117.00 452.10,115.69 453.03,114.36 453.97,113.03 454.90,111.69 455.84,110.35 456.77,109.01 457.71,107.67 458.64,106.32 459.58,104.98 460.51,103.65 461.45,102.32 462.38,100.99 463.32,99.68 464.25,98.37 465.19,97.08 465.19,169.71 464.25,169.54 463.32,169.37 462.38,169.19 461.45,169.02 460.51,168.84 459.58,168.67 458.64,168.49 457.71,168.32 456.77,168.14 455.84,167.97 454.90,167.79 453.97,167.62 453.03,167.45 452.10,167.28 451.16,167.11 450.23,166.95 449.29,166.78 448.36,166.62 447.42,166.46 446.48,166.30 445.55,166.14 444.61,165.98 443.68,165.82 442.74,165.66 441.81,165.50 440.87,165.34 439.94,165.18 439.00,165.02 438.07,164.86 437.13,164.70 436.20,164.55 435.26,164.39 434.33,164.23 433.39,164.08 432.46,163.93 431.52,163.77 430.58,163.62 429.65,163.47 428.71,163.32 427.78,163.18 426.84,163.03 425.91,162.89 424.97,162.75 424.04,162.61 423.10,162.47 422.17,162.33 421.23,162.20 420.30,162.06 419.36,161.91 418.43,161.76 417.49,161.60 416.56,161.43 415.62,161.27 414.69,161.10 413.75,160.93 412.81,160.77 411.88,160.62 410.94,160.47 410.01,160.32 409.07,160.19 408.14,160.08 407.20,159.97 406.27,159.89 405.33,159.82 404.40,159.77 403.46,159.74 402.53,159.74 401.59,159.76 400.66,159.80 399.72,159.89 398.79,160.02 397.85,160.20 396.91,160.42 395.98,160.68 395.04,160.96 394.11,161.28 393.17,161.62 392.24,161.98 391.30,162.35 390.37,162.73 389.43,163.11 388.50,163.49 387.56,163.87 386.63,164.24 385.69,164.59 384.76,164.93 383.82,165.25 382.89,165.58 381.95,165.92 381.02,166.25 380.08,166.59 379.14,166.94 378.21,167.28 377.27,167.63 376.34,167.98 375.40,168.33 374.47,168.68 373.53,169.02 372.60,169.37 371.66,169.71" fill="#c6d4de" fill-opacity="0.65"/>
<line x1="358.6" y1="158.80" x2="483.9" y2="158.80" stroke="#555" stroke-width="0.75" stroke-dasharray="3,2"/>
<polyline points="371.66,120.95 372.60,122.79 373.53,124.66 374.47,126.54 375.40,128.41 376.34,130.27 377.27,132.10 378.21,133.90 379.14,135.65 380.08,137.36 381.02,139.10 381.95,140.85 382.89,142.56 383.82,144.20 384.76,145.72 385.69,147.09 386.63,148.25 387.56,149.24 388.50,150.19 389.43,151.11 390.37,152.00 391.30,152.85 392.24,153.66 393.17,154.42 394.11,155.12 395.04,155.77 395.98,156.36 396.91,156.87 397.85,157.32 398.79,157.68 399.72,157.97 400.66,158.16 401.59,158.25 402.53,158.22 403.46,158.10 404.40,157.90 405.33,157.61 406.27,157.26 407.20,156.86 408.14,156.41 409.07,155.93 410.01,155.42 410.94,154.90 411.88,154.38 412.81,153.86 413.75,153.36 414.69,152.83 415.62,152.27 416.56,151.67 417.49,151.03 418.43,150.37 419.36,149.68 420.30,148.96 421.23,148.23 422.17,147.48 423.10,146.71 424.04,145.93 424.97,145.15 425.91,144.36 426.84,143.59 427.78,142.81 428.71,142.04 429.65,141.27 430.58,140.49 431.52,139.70 432.46,138.89 433.39,138.07 434.33,137.23 435.26,136.37 436.20,135.48 437.13,134.56 438.07,133.60 439.00,132.61 439.94,131.57 440.87,130.49 441.81,129.37 442.74,128.22 443.68,127.05 444.61,125.85 445.55,124.64 446.48,123.41 447.42,122.15 448.36,120.89 449.29,119.60 450.23,118.31 451.16,117.00 452.10,115.69 453.03,114.36 453.97,113.03 454.90,111.69 455.84,110.35 456.77,109.01 457.71,107.67 458.64,106.32 459.58,104.98 460.51,103.65 461.45,102.32 462.38,100.99 463.32,99.68 464.25,98.37 465.19,97.08" fill="none" stroke="#3e4c5a" stroke-width="0.7" stroke-dasharray="1.7,1.3"/>
<polyline points="371.66,169.71 372.60,169.37 373.53,169.02 374.47,168.68 375.40,168.33 376.34,167.98 377.27,167.63 378.21,167.28 379.14,166.94 380.08,166.59 381.02,166.25 381.95,165.92 382.89,165.58 383.82,165.25 384.76,164.93 385.69,164.59 386.63,164.24 387.56,163.87 388.50,163.49 389.43,163.11 390.37,162.73 391.30,162.35 392.24,161.98 393.17,161.62 394.11,161.28 395.04,160.96 395.98,160.68 396.91,160.42 397.85,160.20 398.79,160.02 399.72,159.89 400.66,159.80 401.59,159.76 402.53,159.74 403.46,159.74 404.40,159.77 405.33,159.82 406.27,159.89 407.20,159.97 408.14,160.08 409.07,160.19 410.01,160.32 410.94,160.47 411.88,160.62 412.81,160.77 413.75,160.93 414.69,161.10 415.62,161.27 416.56,161.43 417.49,161.60 418.43,161.76 419.36,161.91 420.30,162.06 421.23,162.20 422.17,162.33 423.10,162.47 424.04,162.61 424.97,162.75 425.91,162.89 426.84,163.03 427.78,163.18 428.71,163.32 429.65,163.47 430.58,163.62 431.52,163.77 432.46,163.93 433.39,164.08 434.33,164.23 435.26,164.39 436.20,164.55 437.13,164.70 438.07,164.86 439.00,165.02 439.94,165.18 440.87,165.34 441.81,165.50 442.74,165.66 443.68,165.82 444.61,165.98 445.55,166.14 446.48,166.30 447.42,166.46 448.36,166.62 449.29,166.78 450.23,166.95 451.16,167.11 452.10,167.28 453.03,167.45 453.97,167.62 454.90,167.79 455.84,167.97 456.77,168.14 457.71,168.32 458.64,168.49 459.58,168.67 460.51,168.84 461.45,169.02 462.38,169.19 463.32,169.37 464.25,169.54 465.19,169.71" fill="none" stroke="#3e4c5a" stroke-width="0.7" stroke-dasharray="1.7,1.3"/>
<polyline points="371.66,151.64 372.60,151.91 373.53,152.18 374.47,152.46 375.40,152.74 376.34,153.02 377.27,153.30 378.21,153.58 379.14,153.86 380.08,154.13 381.02,154.40 381.95,154.66 382.89,154.91 383.82,155.16 384.76,155.40 385.69,155.64 386.63,155.89 387.56,156.15 388.50,156.42 389.43,156.68 390.37,156.95 391.30,157.21 392.24,157.46 393.17,157.70 394.11,157.93 395.04,158.13 395.98,158.32 396.91,158.48 397.85,158.61 398.79,158.71 399.72,158.78 400.66,158.80 401.59,158.81 402.53,158.79 403.46,158.75 404.40,158.70 405.33,158.63 406.27,158.54 407.20,158.44 408.14,158.33 409.07,158.21 410.01,158.08 410.94,157.93 411.88,157.78 412.81,157.63 413.75,157.46 414.69,157.29 415.62,157.12 416.56,156.95 417.49,156.77 418.43,156.60 419.36,156.42 420.30,156.25 421.23,156.08 422.17,155.92 423.10,155.75 424.04,155.57 424.97,155.40 425.91,155.22 426.84,155.03 427.78,154.85 428.71,154.66 429.65,154.47 430.58,154.28 431.52,154.08 432.46,153.88 433.39,153.69 434.33,153.48 435.26,153.28 436.20,153.08 437.13,152.87 438.07,152.66 439.00,152.45 439.94,152.24 440.87,152.03 441.81,151.82 442.74,151.60 443.68,151.39 444.61,151.17 445.55,150.95 446.48,150.74 447.42,150.52 448.36,150.30 449.29,150.08 450.23,149.85 451.16,149.62 452.10,149.38 453.03,149.14 453.97,148.90 454.90,148.65 455.84,148.40 456.77,148.14 457.71,147.89 458.64,147.63 459.58,147.37 460.51,147.11 461.45,146.85 462.38,146.60 463.32,146.34 464.25,146.09 465.19,145.84" fill="none" stroke="#34495f" stroke-width="0.9"/>
<text x="421.3" y="212.6" font-size="5.9" font-weight="bold" fill="#111" text-anchor="middle" textLength="63.6" lengthAdjust="spacingAndGlyphs">Body Roundness Index</text>
<text x="172.6" y="245.8" font-size="7.2" font-weight="bold" fill="#111" text-anchor="start" textLength="173.6" lengthAdjust="spacingAndGlyphs">Adjusted Kaplan-Meier curve of BRI and CVM Risk</text>
<line x1="172.6" y1="246.7" x2="346.2" y2="246.7" stroke="#111" stroke-width="0.85"/>
<rect x="175.4" y="256.3" width="168.8" height="127.1" fill="#fff"/>
<line x1="183.40" y1="256.3" x2="183.40" y2="383.4" stroke="#ebebeb" stroke-width="0.6"/>
<line x1="198.98" y1="256.3" x2="198.98" y2="383.4" stroke="#f4f4f4" stroke-width="0.6"/>
<line x1="214.56" y1="256.3" x2="214.56" y2="383.4" stroke="#ebebeb" stroke-width="0.6"/>
<line x1="230.14" y1="256.3" x2="230.14" y2="383.4" stroke="#f4f4f4" stroke-width="0.6"/>
<line x1="245.72" y1="256.3" x2="245.72" y2="383.4" stroke="#ebebeb" stroke-width="0.6"/>
<line x1="261.30" y1="256.3" x2="261.30" y2="383.4" stroke="#f4f4f4" stroke-width="0.6"/>
<line x1="276.88" y1="256.3" x2="276.88" y2="383.4" stroke="#ebebeb" stroke-width="0.6"/>
<line x1="292.46" y1="256.3" x2="292.46" y2="383.4" stroke="#f4f4f4" stroke-width="0.6"/>
<line x1="308.04" y1="256.3" x2="308.04" y2="383.4" stroke="#ebebeb" stroke-width="0.6"/>
<line x1="323.62" y1="256.3" x2="323.62" y2="383.4" stroke="#f4f4f4" stroke-width="0.6"/>
<line x1="339.20" y1="256.3" x2="339.20" y2="383.4" stroke="#ebebeb" stroke-width="0.6"/>
<line x1="175.4" y1="261.70" x2="344.2" y2="261.70" stroke="#ebebeb" stroke-width="0.6"/>
<line x1="175.4" y1="281.15" x2="344.2" y2="281.15" stroke="#f4f4f4" stroke-width="0.6"/>
<line x1="175.4" y1="300.60" x2="344.2" y2="300.60" stroke="#ebebeb" stroke-width="0.6"/>
<line x1="175.4" y1="320.05" x2="344.2" y2="320.05" stroke="#f4f4f4" stroke-width="0.6"/>
<line x1="175.4" y1="339.50" x2="344.2" y2="339.50" stroke="#ebebeb" stroke-width="0.6"/>
<line x1="175.4" y1="358.95" x2="344.2" y2="358.95" stroke="#f4f4f4" stroke-width="0.6"/>
<line x1="175.4" y1="378.40" x2="344.2" y2="378.40" stroke="#ebebeb" stroke-width="0.6"/>
<rect x="175.4" y="256.3" width="168.8" height="127.1" fill="none" stroke="#c8c8c8" stroke-width="0.7"/>
<text x="172.2" y="263.3" font-size="4.5" font-weight="bold" fill="#222" text-anchor="end">1.00</text>
<line x1="173.9" y1="261.70" x2="175.4" y2="261.70" stroke="#555" stroke-width="0.4"/>
<text x="172.2" y="302.2" font-size="4.5" font-weight="bold" fill="#222" text-anchor="end">0.95</text>
<line x1="173.9" y1="300.60" x2="175.4" y2="300.60" stroke="#555" stroke-width="0.4"/>
<text x="172.2" y="341.1" font-size="4.5" font-weight="bold" fill="#222" text-anchor="end">0.90</text>
<line x1="173.9" y1="339.50" x2="175.4" y2="339.50" stroke="#555" stroke-width="0.4"/>
<text x="172.2" y="380.0" font-size="4.5" font-weight="bold" fill="#222" text-anchor="end">0.85</text>
<line x1="173.9" y1="378.40" x2="175.4" y2="378.40" stroke="#555" stroke-width="0.4"/>
<text x="183.4" y="390.6" font-size="4.8" font-weight="bold" fill="#222" text-anchor="middle">0</text>
<line x1="183.40" y1="383.4" x2="183.40" y2="384.9" stroke="#555" stroke-width="0.4"/>
<text x="214.56" y="390.6" font-size="4.8" font-weight="bold" fill="#222" text-anchor="middle">50</text>
<line x1="214.56" y1="383.4" x2="214.56" y2="384.9" stroke="#555" stroke-width="0.4"/>
<text x="245.72" y="390.6" font-size="4.8" font-weight="bold" fill="#222" text-anchor="middle">100</text>
<line x1="245.72" y1="383.4" x2="245.72" y2="384.9" stroke="#555" stroke-width="0.4"/>
<text x="276.88" y="390.6" font-size="4.8" font-weight="bold" fill="#222" text-anchor="middle">150</text>
<line x1="276.88" y1="383.4" x2="276.88" y2="384.9" stroke="#555" stroke-width="0.4"/>
<text x="308.04" y="390.6" font-size="4.8" font-weight="bold" fill="#222" text-anchor="middle">200</text>
<line x1="308.04" y1="383.4" x2="308.04" y2="384.9" stroke="#555" stroke-width="0.4"/>
<text x="339.2" y="390.6" font-size="4.8" font-weight="bold" fill="#222" text-anchor="middle">250</text>
<line x1="339.20" y1="383.4" x2="339.20" y2="384.9" stroke="#555" stroke-width="0.4"/>
<text x="260.3" y="401.5" font-size="7.8" font-weight="bold" fill="#111" text-anchor="middle" textLength="16.5" lengthAdjust="spacingAndGlyphs">Time</text>
<path d="M174.3,380.8 L175.7,377.6 M175.7,380.8 L177.1,377.6" stroke="#444" stroke-width="0.5" fill="none"/>
<text transform="translate(160.2,343.7) rotate(-90)" font-size="7.2" font-weight="bold" fill="#111" text-anchor="start" textLength="47.7" lengthAdjust="spacingAndGlyphs">Survival rate</text>
<polyline points="183.40,261.70 185.11,261.70 185.11,262.02 186.55,262.02 186.55,262.29 188.79,262.29 188.79,262.70 190.10,262.70 190.10,262.95 192.15,262.95 192.15,263.33 193.93,263.33 193.93,263.66 195.22,263.66 195.22,263.90 197.22,263.90 197.22,264.28 198.48,264.28 198.48,264.52 200.37,264.52 200.37,264.88 201.68,264.88 201.68,265.13 203.02,265.13 203.02,265.38 204.89,265.38 204.89,265.73 207.41,265.73 207.41,266.20 208.80,266.20 208.80,266.45 210.35,266.45 210.35,266.74 212.55,266.74 212.55,267.16 215.26,267.16 215.26,267.69 217.38,267.69 217.38,268.12 219.21,268.12 219.21,268.51 221.96,268.51 221.96,269.13 223.23,269.13 223.23,269.43 225.80,269.43 225.80,270.06 227.46,270.06 227.46,270.48 228.88,270.48 228.88,270.86 230.27,270.86 230.27,271.23 231.96,271.23 231.96,271.68 234.46,271.68 234.46,272.37 235.94,272.37 235.94,272.79 238.06,272.79 238.06,273.39 240.28,273.39 240.28,274.01 242.07,274.01 242.07,274.51 244.14,274.51 244.14,275.09 245.44,275.09 245.44,275.45 246.73,275.45 246.73,275.80 248.25,275.80 248.25,276.21 250.54,276.21 250.54,276.83 252.42,276.83 252.42,277.34 254.11,277.34 254.11,277.81 256.24,277.81 256.24,278.42 258.16,278.42 258.16,278.98 259.84,278.98 259.84,279.49 262.30,279.49 262.30,280.29 264.61,280.29 264.61,281.08 266.20,281.08 266.20,281.68 268.31,281.68 268.31,282.53 270.35,282.53 270.35,283.41 272.94,283.41 272.94,284.57 275.30,284.57 275.30,285.65 276.96,285.65 276.96,286.41 278.34,286.41 278.34,287.03 279.03,287.03 279.03,287.34 279.96,287.34 279.96,287.75 281.16,287.75 281.16,288.28 281.88,288.28 281.88,288.60 282.87,288.60 282.87,289.03 283.50,289.03 283.50,289.32 284.63,289.32 284.63,289.82 285.84,289.82 285.84,290.36 286.90,290.36 286.90,290.83 288.19,290.83 288.19,291.41 289.04,291.41 289.04,291.79 290.19,291.79 290.19,292.29 291.27,292.29 291.27,292.76 292.33,292.76 292.33,293.22 293.29,293.22 293.29,293.63 294.56,293.63 294.56,294.15 295.91,294.15 295.91,294.69 296.89,294.69 296.89,295.05 298.01,295.05 298.01,295.46 298.66,295.46 298.66,295.70 299.82,295.70 299.82,296.11 300.93,296.11 300.93,296.51 302.32,296.51 302.32,297.02 303.58,297.02 303.58,297.50 304.40,297.50 304.40,297.83 305.31,297.83 305.31,298.21 306.44,298.21 306.44,298.72 307.06,298.72 307.06,299.01 308.02,299.01 308.02,299.61 308.76,299.61 308.76,300.15 309.45,300.15 309.45,300.72 310.09,300.72 310.09,301.29 311.30,301.29 311.30,302.41 312.00,302.41 312.00,303.08 312.80,303.08 312.80,303.86 313.71,303.86 313.71,304.78 315.00,304.78 315.00,306.10 315.67,306.10 315.67,306.79 316.62,306.79 316.62,307.78 317.66,307.78 317.66,308.85 318.96,308.85 318.96,310.17 320.21,310.17 320.21,311.39 321.50,311.39 321.50,312.64 322.32,312.64 322.32,313.43 323.25,313.43 323.25,314.35 324.14,314.35 324.14,315.24 325.44,315.24 325.44,316.62 326.80,316.62 326.80,318.18 327.52,318.18 327.52,319.09 328.26,319.09 328.26,320.09 329.04,320.09 329.04,321.19 329.83,321.19 329.83,322.31 330.81,322.31 330.81,323.68 331.88,323.68 331.88,325.08 332.69,325.08 332.69,326.03 333.29,326.03 333.29,326.69 334.22,326.69 334.22,327.64 335.12,327.64 335.12,328.51 336.17,328.51 336.17,329.53 337.02,329.53 337.02,330.38" fill="none" stroke="#3ab0d6" stroke-width="1.35" stroke-linejoin="round"/>
<polyline points="183.40,261.70 185.11,261.70 185.11,262.03 186.55,262.03 186.55,262.30 188.79,262.30 188.79,262.72 190.10,262.72 190.10,262.97 192.15,262.97 192.15,263.36 193.93,263.36 193.93,263.70 195.22,263.70 195.22,263.94 197.22,263.94 197.22,264.33 198.48,264.33 198.48,264.57 200.37,264.57 200.37,264.94 201.68,264.94 201.68,265.19 203.02,265.19 203.02,265.45 204.89,265.45 204.89,265.80 207.41,265.80 207.41,266.28 208.80,266.28 208.80,266.54 210.35,266.54 210.35,266.83 212.55,266.83 212.55,267.25 215.26,267.25 215.26,267.79 217.38,267.79 217.38,268.23 219.21,268.23 219.21,268.62 221.96,268.62 221.96,269.25 223.23,269.25 223.23,269.56 225.80,269.56 225.80,270.20 227.46,270.20 227.46,270.64 228.88,270.64 228.88,271.02 230.27,271.02 230.27,271.39 231.96,271.39 231.96,271.86 234.46,271.86 234.46,272.56 235.94,272.56 235.94,272.98 238.06,272.98 238.06,273.59 240.28,273.59 240.28,274.22 242.07,274.22 242.07,274.74 244.14,274.74 244.14,275.32 245.44,275.32 245.44,275.68 246.73,275.68 246.73,276.04 248.25,276.04 248.25,276.46 250.54,276.46 250.54,277.09 252.42,277.09 252.42,277.61 254.11,277.61 254.11,278.09 256.24,278.09 256.24,278.70 258.16,278.70 258.16,279.28 259.84,279.28 259.84,279.80 262.30,279.80 262.30,280.61 264.61,280.61 264.61,281.42 266.20,281.42 266.20,282.02 268.31,282.02 268.31,282.89 270.35,282.89 270.35,283.78 272.94,283.78 272.94,284.97 275.30,284.97 275.30,286.07 276.96,286.07 276.96,286.84 278.34,286.84 278.34,287.47 279.03,287.47 279.03,287.78 279.96,287.78 279.96,288.20 281.16,288.20 281.16,288.74 281.88,288.74 281.88,289.06 282.87,289.06 282.87,289.51 283.50,289.51 283.50,289.79 284.63,289.79 284.63,290.31 285.84,290.31 285.84,290.86 286.90,290.86 286.90,291.34 288.19,291.34 288.19,291.92 289.04,291.92 289.04,292.31 290.19,292.31 290.19,292.82 291.27,292.82 291.27,293.30 292.33,293.30 292.33,293.76 293.29,293.76 293.29,294.18 294.56,294.18 294.56,294.71 295.91,294.71 295.91,295.26 296.89,295.26 296.89,295.63 298.01,295.63 298.01,296.05 298.66,296.05 298.66,296.28 299.82,296.28 299.82,296.70 300.93,296.70 300.93,297.11 302.32,297.11 302.32,297.62 303.58,297.62 303.58,298.11 304.40,298.11 304.40,298.45 305.31,298.45 305.31,298.84 306.44,298.84 306.44,299.35 307.06,299.35 307.06,299.66 308.02,299.66 308.02,300.26 308.76,300.26 308.76,300.81 309.45,300.81 309.45,301.39 310.09,301.39 310.09,301.97 311.30,301.97 311.30,303.11 312.00,303.11 312.00,303.79 312.80,303.79 312.80,304.59 313.71,304.59 313.71,305.52 315.00,305.52 315.00,306.87 315.67,306.87 315.67,307.57 316.62,307.57 316.62,308.57 317.66,308.57 317.66,309.66 318.96,309.66 318.96,311.00 320.21,311.00 320.21,312.25 321.50,312.25 321.50,313.52 322.32,313.52 322.32,314.33 323.25,314.33 323.25,315.26 324.14,315.26 324.14,316.17 325.44,316.17 325.44,317.57 326.80,317.57 326.80,319.15 327.52,319.15 327.52,320.08 328.26,320.08 328.26,321.10 329.04,321.10 329.04,322.22 329.83,322.22 329.83,323.35 330.81,323.35 330.81,324.75 331.88,324.75 331.88,326.17 332.69,326.17 332.69,327.14 333.29,327.14 333.29,327.81 334.22,327.81 334.22,328.78 335.12,328.78 335.12,329.67 336.17,329.67 336.17,330.70 337.02,330.70 337.02,331.56" fill="none" stroke="#8e3c48" stroke-width="1.35" stroke-linejoin="round"/>
<polyline points="183.40,261.70 185.11,261.70 185.11,262.00 186.55,262.00 186.55,262.26 188.79,262.26 188.79,262.65 190.10,262.65 190.10,262.88 192.15,262.88 192.15,263.24 193.93,263.24 193.93,263.55 195.22,263.55 195.22,263.78 197.22,263.78 197.22,264.14 198.48,264.14 198.48,264.36 200.37,264.36 200.37,264.70 201.68,264.70 201.68,264.94 203.02,264.94 203.02,265.18 204.89,265.18 204.89,265.51 207.41,265.51 207.41,265.95 208.80,265.95 208.80,266.19 210.35,266.19 210.35,266.46 212.55,266.46 212.55,266.85 215.26,266.85 215.26,267.35 217.38,267.35 217.38,267.76 219.21,267.76 219.21,268.13 221.96,268.13 221.96,268.71 223.23,268.71 223.23,268.99 225.80,268.99 225.80,269.59 227.46,269.59 227.46,269.99 228.88,269.99 228.88,270.34 230.27,270.34 230.27,270.69 231.96,270.69 231.96,271.13 234.46,271.13 234.46,271.78 235.94,271.78 235.94,272.17 238.06,272.17 238.06,272.73 240.28,272.73 240.28,273.32 242.07,273.32 242.07,273.80 244.14,273.80 244.14,274.34 245.44,274.34 245.44,274.68 246.73,274.68 246.73,275.01 248.25,275.01 248.25,275.40 250.54,275.40 250.54,275.98 252.42,275.98 252.42,276.46 254.11,276.46 254.11,276.91 256.24,276.91 256.24,277.48 258.16,277.48 258.16,278.01 259.84,278.01 259.84,278.50 262.30,278.50 262.30,279.25 264.61,279.25 264.61,280.00 266.20,280.00 266.20,280.56 268.31,280.56 268.31,281.36 270.35,281.36 270.35,282.19 272.94,282.19 272.94,283.29 275.30,283.29 275.30,284.31 276.96,284.31 276.96,285.03 278.34,285.03 278.34,285.61 279.03,285.61 279.03,285.90 279.96,285.90 279.96,286.29 281.16,286.29 281.16,286.79 281.88,286.79 281.88,287.09 282.87,287.09 282.87,287.50 283.50,287.50 283.50,287.77 284.63,287.77 284.63,288.25 285.84,288.25 285.84,288.76 286.90,288.76 286.90,289.20 288.19,289.20 288.19,289.75 289.04,289.75 289.04,290.10 290.19,290.10 290.19,290.58 291.27,290.58 291.27,291.02 292.33,291.02 292.33,291.45 293.29,291.45 293.29,291.84 294.56,291.84 294.56,292.34 295.91,292.34 295.91,292.84 296.89,292.84 296.89,293.18 298.01,293.18 298.01,293.57 298.66,293.57 298.66,293.79 299.82,293.79 299.82,294.18 300.93,294.18 300.93,294.56 302.32,294.56 302.32,295.04 303.58,295.04 303.58,295.49 304.40,295.49 304.40,295.80 305.31,295.80 305.31,296.16 306.44,296.16 306.44,296.64 307.06,296.64 307.06,296.92 308.02,296.92 308.02,297.48 308.76,297.48 308.76,298.00 309.45,298.00 309.45,298.53 310.09,298.53 310.09,299.07 311.30,299.07 311.30,300.13 312.00,300.13 312.00,300.76 312.80,300.76 312.80,301.50 313.71,301.50 313.71,302.36 315.00,302.36 315.00,303.62 315.67,303.62 315.67,304.26 316.62,304.26 316.62,305.20 317.66,305.20 317.66,306.21 318.96,306.21 318.96,307.45 320.21,307.45 320.21,308.61 321.50,308.61 321.50,309.78 322.32,309.78 322.32,310.53 323.25,310.53 323.25,311.40 324.14,311.40 324.14,312.24 325.44,312.24 325.44,313.54 326.80,313.54 326.80,315.01 327.52,315.01 327.52,315.88 328.26,315.88 328.26,316.82 329.04,316.82 329.04,317.86 329.83,317.86 329.83,318.91 330.81,318.91 330.81,320.21 331.88,320.21 331.88,321.53 332.69,321.53 332.69,322.43 333.29,322.43 333.29,323.04 334.22,323.04 334.22,323.95 335.12,323.95 335.12,324.77 336.17,324.77 336.17,325.73 337.02,325.73 337.02,326.53" fill="none" stroke="#e98c3f" stroke-width="1.35" stroke-linejoin="round"/>
<polyline points="183.40,261.70 185.11,261.70 185.11,261.98 186.55,261.98 186.55,262.21 188.79,262.21 188.79,262.57 190.10,262.57 190.10,262.78 192.15,262.78 192.15,263.11 193.93,263.11 193.93,263.39 195.22,263.39 195.22,263.60 197.22,263.60 197.22,263.93 198.48,263.93 198.48,264.13 200.37,264.13 200.37,264.44 201.68,264.44 201.68,264.66 203.02,264.66 203.02,264.88 204.89,264.88 204.89,265.18 207.41,265.18 207.41,265.58 208.80,265.58 208.80,265.80 210.35,265.80 210.35,266.05 212.55,266.05 212.55,266.41 215.26,266.41 215.26,266.86 217.38,266.86 217.38,267.23 219.21,267.23 219.21,267.57 221.96,267.57 221.96,268.10 223.23,268.10 223.23,268.36 225.80,268.36 225.80,268.91 227.46,268.91 227.46,269.27 228.88,269.27 228.88,269.59 230.27,269.59 230.27,269.91 231.96,269.91 231.96,270.31 234.46,270.31 234.46,270.90 235.94,270.90 235.94,271.26 238.06,271.26 238.06,271.77 240.28,271.77 240.28,272.31 242.07,272.31 242.07,272.75 244.14,272.75 244.14,273.24 245.44,273.24 245.44,273.55 246.73,273.55 246.73,273.85 248.25,273.85 248.25,274.21 250.54,274.21 250.54,274.74 252.42,274.74 252.42,275.18 254.11,275.18 254.11,275.59 256.24,275.59 256.24,276.11 258.16,276.11 258.16,276.60 259.84,276.60 259.84,277.04 262.30,277.04 262.30,277.72 264.61,277.72 264.61,278.41 266.20,278.41 266.20,278.92 268.31,278.92 268.31,279.66 270.35,279.66 270.35,280.41 272.94,280.41 272.94,281.42 275.30,281.42 275.30,282.35 276.96,282.35 276.96,283.00 278.34,283.00 278.34,283.54 279.03,283.54 279.03,283.80 279.96,283.80 279.96,284.16 281.16,284.16 281.16,284.61 281.88,284.61 281.88,284.89 282.87,284.89 282.87,285.26 283.50,285.26 283.50,285.51 284.63,285.51 284.63,285.94 285.84,285.94 285.84,286.41 286.90,286.41 286.90,286.82 288.19,286.82 288.19,287.31 289.04,287.31 289.04,287.64 290.19,287.64 290.19,288.07 291.27,288.07 291.27,288.48 292.33,288.48 292.33,288.87 293.29,288.87 293.29,289.22 294.56,289.22 294.56,289.68 295.91,289.68 295.91,290.14 296.89,290.14 296.89,290.45 298.01,290.45 298.01,290.81 298.66,290.81 298.66,291.01 299.82,291.01 299.82,291.36 300.93,291.36 300.93,291.71 302.32,291.71 302.32,292.14 303.58,292.14 303.58,292.56 304.40,292.56 304.40,292.84 305.31,292.84 305.31,293.17 306.44,293.17 306.44,293.61 307.06,293.61 307.06,293.87 308.02,293.87 308.02,294.38 308.76,294.38 308.76,294.85 309.45,294.85 309.45,295.34 310.09,295.34 310.09,295.83 311.30,295.83 311.30,296.79 312.00,296.79 312.00,297.37 312.80,297.37 312.80,298.05 313.71,298.05 313.71,298.84 315.00,298.84 315.00,299.98 315.67,299.98 315.67,300.57 316.62,300.57 316.62,301.42 317.66,301.42 317.66,302.34 318.96,302.34 318.96,303.48 320.21,303.48 320.21,304.54 321.50,304.54 321.50,305.61 322.32,305.61 322.32,306.30 323.25,306.30 323.25,307.09 324.14,307.09 324.14,307.86 325.44,307.86 325.44,309.05 326.80,309.05 326.80,310.39 327.52,310.39 327.52,311.18 328.26,311.18 328.26,312.04 329.04,312.04 329.04,312.99 329.83,312.99 329.83,313.95 330.81,313.95 330.81,315.13 331.88,315.13 331.88,316.34 332.69,316.34 332.69,317.16 333.29,317.16 333.29,317.72 334.22,317.72 334.22,318.55 335.12,318.55 335.12,319.30 336.17,319.30 336.17,320.17 337.02,320.17 337.02,320.91" fill="none" stroke="#2b3a48" stroke-width="1.35" stroke-linejoin="round"/>
<polyline points="183.40,261.70 185.11,261.70 185.11,262.01 186.55,262.01 186.55,262.26 188.79,262.26 188.79,262.65 190.10,262.65 190.10,262.87 192.15,262.87 192.15,263.23 193.93,263.23 193.93,263.54 195.22,263.54 195.22,263.78 197.22,263.78 197.22,264.16 198.48,264.16 198.48,264.41 200.37,264.41 200.37,264.81 201.68,264.81 201.68,265.10 203.02,265.10 203.02,265.41 204.89,265.41 204.89,265.84 207.41,265.84 207.41,266.43 208.80,266.43 208.80,266.77 210.35,266.77 210.35,267.16 212.55,267.16 212.55,267.71 215.26,267.71 215.26,268.42 217.38,268.42 217.38,268.99 219.21,268.99 219.21,269.50 221.96,269.50 221.96,270.29 223.23,270.29 223.23,270.67 225.80,270.67 225.80,271.46 227.46,271.46 227.46,271.99 228.88,271.99 228.88,272.45 230.27,272.45 230.27,272.91 231.96,272.91 231.96,273.47 234.46,273.47 234.46,274.32 235.94,274.32 235.94,274.83 238.06,274.83 238.06,275.56 240.28,275.56 240.28,276.32 242.07,276.32 242.07,276.93 244.14,276.93 244.14,277.63 245.44,277.63 245.44,278.05 246.73,278.05 246.73,278.47 248.25,278.47 248.25,278.95 250.54,278.95 250.54,279.67 252.42,279.67 252.42,280.26 254.11,280.26 254.11,280.81 256.24,280.81 256.24,281.52 258.16,281.52 258.16,282.19 259.84,282.19 259.84,282.81 262.30,282.81 262.30,283.78 264.61,283.78 264.61,284.77 266.20,284.77 266.20,285.52 268.31,285.52 268.31,286.60 270.35,286.60 270.35,287.71 272.94,287.71 272.94,289.19 275.30,289.19 275.30,290.58 276.96,290.58 276.96,291.56 278.34,291.56 278.34,292.37 279.03,292.37 279.03,292.77 279.96,292.77 279.96,293.31 281.16,293.31 281.16,293.99 281.88,293.99 281.88,294.39 282.87,294.39 282.87,294.93 283.50,294.93 283.50,295.27 284.63,295.27 284.63,295.89 285.84,295.89 285.84,296.55 286.90,296.55 286.90,297.12 288.19,297.12 288.19,297.82 289.04,297.82 289.04,298.28 290.19,298.28 290.19,298.90 291.27,298.90 291.27,299.48 292.33,299.48 292.33,300.05 293.29,300.05 293.29,300.57 294.56,300.57 294.56,301.26 295.91,301.26 295.91,301.95 296.89,301.95 296.89,302.44 298.01,302.44 298.01,302.98 298.66,302.98 298.66,303.29 299.82,303.29 299.82,303.84 300.93,303.84 300.93,304.37 302.32,304.37 302.32,305.06 303.58,305.06 303.58,305.70 304.40,305.70 304.40,306.14 305.31,306.14 305.31,306.65 306.44,306.65 306.44,307.32 307.06,307.32 307.06,307.71 308.02,307.71 308.02,308.35 308.76,308.35 308.76,308.86 309.45,308.86 309.45,309.37 310.09,309.37 310.09,309.87 311.30,309.87 311.30,310.90 312.00,310.90 312.00,311.53 312.80,311.53 312.80,312.29 313.71,312.29 313.71,313.19 315.00,313.19 315.00,314.55 315.67,314.55 315.67,315.28 316.62,315.28 316.62,316.35 317.66,316.35 317.66,317.56 318.96,317.56 318.96,319.13 320.21,319.13 320.21,320.75 321.50,320.75 321.50,322.52 322.32,322.52 322.32,323.69 323.25,323.69 323.25,325.04 324.14,325.04 324.14,326.34 325.44,326.34 325.44,328.27 326.80,328.27 326.80,330.25 327.52,330.25 327.52,331.28 328.26,331.28 328.26,332.30 329.04,332.30 329.04,333.37 329.83,333.37 329.83,334.43 330.81,334.43 330.81,335.75 331.88,335.75 331.88,337.16 332.69,337.16 332.69,338.23 333.29,338.23 333.29,339.02 334.22,339.02 334.22,340.25 335.12,340.25 335.12,341.42 336.17,341.42 336.17,342.80 337.02,342.80 337.02,343.93" fill="none" stroke="#66ab8d" stroke-width="1.35" stroke-linejoin="round"/>
<line x1="354.6" y1="300.50" x2="361.9" y2="300.50" stroke="#2d3b4a" stroke-width="1.1"/>
<text x="365.3" y="302.5" font-size="5.6" fill="#222" text-anchor="start" textLength="6.8" lengthAdjust="spacingAndGlyphs">Q3</text>
<line x1="354.6" y1="310.28" x2="361.9" y2="310.28" stroke="#e98c3f" stroke-width="1.1"/>
<text x="365.3" y="312.28" font-size="5.6" fill="#222" text-anchor="start" textLength="6.8" lengthAdjust="spacingAndGlyphs">Q1</text>
<line x1="354.6" y1="320.06" x2="361.9" y2="320.06" stroke="#3aaed4" stroke-width="1.1"/>
<text x="365.3" y="322.06" font-size="5.6" fill="#222" text-anchor="start" textLength="6.8" lengthAdjust="spacingAndGlyphs">Q2</text>
<line x1="354.6" y1="329.84" x2="361.9" y2="329.84" stroke="#8f3d48" stroke-width="1.1"/>
<text x="365.3" y="331.84" font-size="5.6" fill="#222" text-anchor="start" textLength="6.8" lengthAdjust="spacingAndGlyphs">Q4</text>
<line x1="354.6" y1="339.62" x2="361.9" y2="339.62" stroke="#68ac8f" stroke-width="1.1"/>
<text x="365.3" y="341.62" font-size="5.6" fill="#222" text-anchor="start" textLength="6.8" lengthAdjust="spacingAndGlyphs">Q5</text>
<text x="186.9" y="328.0" font-size="9.3" fill="#000" text-anchor="start" textLength="68.5" lengthAdjust="spacingAndGlyphs">BRI (Q5 vs. Q3):</text>
<text x="220.9" y="339.5" font-size="8.8" font-weight="bold" fill="#000" text-anchor="middle" textLength="18.2" lengthAdjust="spacingAndGlyphs">54%</text>
<text x="181.8" y="351.6" font-size="9.3" fill="#000" text-anchor="start" textLength="81.0" lengthAdjust="spacingAndGlyphs">Increased CVM risk</text>
<text x="284.8" y="364.7" font-size="6.0" font-weight="bold" fill="#111" text-anchor="middle" textLength="13.2" lengthAdjust="spacingAndGlyphs">CVM</text>
<g>
<path d="M275.9,321.7 L278.1,321.7 L279.8,336.5 L277.4,336.5 Z" fill="#3a8cd0"/>
<path d="M275.5,321.4 L276.6,321.4 L276.9,324 L275.9,324 Z M277.7,321.2 L278.8,321.2 L278.6,324 L277.8,324 Z" fill="#3a8cd0"/>
<rect x="275.6" y="348.5" width="3.2" height="7.8" fill="#3a8cd0"/>
<path d="M273.5,329.6 L277.4,330.4 L277.4,332.2 L273.5,331.6 Z" fill="#3a8cd0"/>
<path d="M281.6,339 L281.6,328.4 Q281.8,324.2 285.0,324.0 Q288.2,324.2 288.4,328.0 L288.6,333.5" fill="none" stroke="#d83848" stroke-width="3.4"/>
<path d="M281.4,325.2 L281.0,321.6 M283.6,324.2 L283.6,321.2 M286.0,324.2 L286.6,321.6" stroke="#d83848" stroke-width="1.5"/>
<path d="M279.2,339 L279.4,329 Q279.6,326.4 281.6,326.2 L283.4,326.4 L283.6,339 Z" fill="#e44c50"/>
<path d="M272.3,331.9 L276.2,332.1 L276.6,336.6 L272.5,336.2 Z" fill="#b02636"/>
<path d="M287.4,333.0 L292.8,333.2 L293.0,337.4 L287.6,337.6 Z" fill="#a41f2e"/>
<path d="M273.6,337 C272.8,341 273.4,346 276.4,349.6 C279.6,353 285,356.4 289.4,356.2 C293,355.2 294.6,350 294.3,345.6 C294,341.6 293,338.8 291,337.4 C288,336.6 284,338.4 281,338.6 C278.6,338.8 276.6,336.4 273.6,337 Z" fill="#d63e4c"/>
<path d="M273.6,337 C272.8,341 273.4,346 276.4,349.6 L277.8,341.2 C277.2,338.6 275.6,336.8 273.6,337 Z" fill="#d65578"/>
<path d="M277.6,343.0 C280.6,340.6 285.6,339.0 290.2,339.4 L290.6,342.6 C287.6,343.4 285.0,345.6 283.6,348.6 C282.6,350.8 280.6,351.6 278.4,350.4 Z" fill="#e8893e"/>
<path d="M278.6,348.0 L283.0,344.0 L289.8,340.6 M283.0,344.0 L283.6,349.6 M286.6,342.0 L287.4,345.0" stroke="#f6c458" stroke-width="0.8" fill="none"/>
<path d="M285.0,352.6 C285.6,347.6 288.0,343.6 291.0,342.8 C293.4,342.4 294.6,344.8 294.4,348.0 C294.0,352.4 292.0,355.6 289.4,356.2 C287.2,356.4 285.2,355.0 285.0,352.6 Z" fill="#6e1418"/>
<path d="M281.8,339.8 L284.9,340.2 L293.6,331.8 L291.6,329.0 Z" fill="#3a8cd0"/>
<path d="M290.2,328.6 L294.4,329.4 L293.8,332.0 Z" fill="#3a8cd0"/>
</g>
<text x="412.8" y="244.5" font-size="7.2" font-weight="bold" fill="#111" text-anchor="start" textLength="65.5" lengthAdjust="spacingAndGlyphs">Subgroup Analysis</text>
<line x1="412.8" y1="245.7" x2="478.3" y2="245.7" stroke="#111" stroke-width="0.8"/>
<rect x="386.6" y="249.2" width="117.8" height="153.1" fill="#fff" stroke="#b4b4b4" stroke-width="0.8"/>
<text x="388.4" y="258.6" font-size="2.7" font-weight="bold" fill="#333" text-anchor="start" textLength="22.0" lengthAdjust="spacingAndGlyphs">Group / Subgroup</text>
<text x="415.7" y="258.6" font-size="2.7" font-weight="bold" fill="#333" text-anchor="start" textLength="15.0" lengthAdjust="spacingAndGlyphs">Sample size</text>
<text x="452.0" y="256.2" font-size="2.7" font-weight="bold" fill="#333" text-anchor="middle">BRI</text>
<text x="452.5" y="259.5" font-size="2.7" font-weight="bold" fill="#333" text-anchor="middle" textLength="14.0" lengthAdjust="spacingAndGlyphs">(Q5 vs. Q3)</text>
<text x="473.4" y="258.8" font-size="2.7" font-weight="bold" fill="#333" text-anchor="start" textLength="9.7" lengthAdjust="spacingAndGlyphs">p value</text>
<text x="486.9" y="258.8" font-size="2.7" font-weight="bold" fill="#333" text-anchor="start" textLength="16.2" lengthAdjust="spacingAndGlyphs">p interaction</text>
<line x1="388.0" y1="261.2" x2="411.0" y2="261.2" stroke="#aaa" stroke-width="0.5"/>
<line x1="415.5" y1="261.2" x2="431.5" y2="261.2" stroke="#aaa" stroke-width="0.5"/>
<line x1="473.0" y1="261.2" x2="484.0" y2="261.2" stroke="#aaa" stroke-width="0.5"/>
<line x1="486.5" y1="261.2" x2="503.5" y2="261.2" stroke="#aaa" stroke-width="0.5"/>
<line x1="452.3" y1="261.5" x2="452.3" y2="391.4" stroke="#aaa" stroke-width="0.45"/>
<text x="391.0" y="267.7" font-size="2.7" fill="#777" text-anchor="start">Total</text>
<text x="419.7" y="267.7" font-size="2.7" fill="#777" text-anchor="start">31,351</text>
<line x1="452.7" y1="266.80" x2="456.7" y2="266.80" stroke="#555" stroke-width="0.45"/>
<rect x="453.85" y="266.05" width="1.5" height="1.5" fill="#1a1a1a"/>
<text x="478.0" y="267.7" font-size="2.7" fill="#777" text-anchor="middle">.000</text>
<text x="388.8" y="273.09999999999997" font-size="2.7" font-weight="bold" fill="#444" text-anchor="start">Age</text>
<text x="391.0" y="278.49999999999994" font-size="2.7" fill="#777" text-anchor="start">20-40</text>
<text x="419.7" y="278.49999999999994" font-size="2.7" fill="#777" text-anchor="start">15538</text>
<line x1="388.0" y1="280.20" x2="431.5" y2="280.20" stroke="#c4c4c4" stroke-width="0.45"/>
<line x1="450.7" y1="277.60" x2="462.6" y2="277.60" stroke="#555" stroke-width="0.45"/>
<rect x="455.85" y="276.85" width="1.5" height="1.5" fill="#1a1a1a"/>
<text x="478.0" y="278.49999999999994" font-size="2.7" fill="#777" text-anchor="middle">.12</text>
<text x="391.0" y="283.8999999999999" font-size="2.7" fill="#777" text-anchor="start">40-60</text>
<text x="419.7" y="283.8999999999999" font-size="2.7" fill="#777" text-anchor="start">10072</text>
<line x1="388.0" y1="285.60" x2="431.5" y2="285.60" stroke="#c4c4c4" stroke-width="0.45"/>
<line x1="452.5" y1="283.00" x2="460.0" y2="283.00" stroke="#555" stroke-width="0.45"/>
<rect x="455.15" y="282.25" width="1.5" height="1.5" fill="#1a1a1a"/>
<text x="478.0" y="283.8999999999999" font-size="2.7" fill="#777" text-anchor="middle">.02</text>
<text x="495.4" y="283.8999999999999" font-size="2.7" fill="#777" text-anchor="middle">.000</text>
<text x="391.0" y="289.2999999999999" font-size="2.7" fill="#777" text-anchor="start">≥60</text>
<text x="419.7" y="289.2999999999999" font-size="2.7" fill="#777" text-anchor="start">5741</text>
<line x1="388.0" y1="291.00" x2="431.5" y2="291.00" stroke="#c4c4c4" stroke-width="0.45"/>
<line x1="451.5" y1="288.40" x2="455.6" y2="288.40" stroke="#555" stroke-width="0.45"/>
<rect x="452.85" y="287.65" width="1.5" height="1.5" fill="#1a1a1a"/>
<text x="478.0" y="289.2999999999999" font-size="2.7" fill="#777" text-anchor="middle">.13</text>
<text x="388.8" y="294.6999999999999" font-size="2.7" font-weight="bold" fill="#444" text-anchor="start">Sex</text>
<text x="391.0" y="300.09999999999985" font-size="2.7" fill="#777" text-anchor="start">Male</text>
<text x="419.7" y="300.09999999999985" font-size="2.7" fill="#777" text-anchor="start">15567</text>
<line x1="388.0" y1="301.80" x2="431.5" y2="301.80" stroke="#c4c4c4" stroke-width="0.45"/>
<line x1="454.4" y1="299.20" x2="458.5" y2="299.20" stroke="#555" stroke-width="0.45"/>
<rect x="455.65" y="298.45" width="1.5" height="1.5" fill="#1a1a1a"/>
<text x="478.0" y="300.09999999999985" font-size="2.7" fill="#777" text-anchor="middle">&lt;.001</text>
<text x="391.0" y="305.49999999999983" font-size="2.7" fill="#777" text-anchor="start">Female</text>
<text x="419.7" y="305.49999999999983" font-size="2.7" fill="#777" text-anchor="start">15784</text>
<line x1="388.0" y1="307.20" x2="431.5" y2="307.20" stroke="#c4c4c4" stroke-width="0.45"/>
<line x1="451.0" y1="304.60" x2="455.6" y2="304.60" stroke="#555" stroke-width="0.45"/>
<rect x="452.05" y="303.85" width="1.5" height="1.5" fill="#1a1a1a"/>
<text x="478.0" y="305.49999999999983" font-size="2.7" fill="#777" text-anchor="middle">.07</text>
<text x="495.4" y="305.49999999999983" font-size="2.7" fill="#777" text-anchor="middle">.16</text>
<text x="388.8" y="310.8999999999998" font-size="2.7" font-weight="bold" fill="#444" text-anchor="start">Race/Ethnicity</text>
<text x="391.0" y="316.2999999999998" font-size="2.7" fill="#777" text-anchor="start">Non-Hispanic White</text>
<text x="419.7" y="316.2999999999998" font-size="2.7" fill="#777" text-anchor="start">13428</text>
<line x1="388.0" y1="318.00" x2="431.5" y2="318.00" stroke="#c4c4c4" stroke-width="0.45"/>
<line x1="452.2" y1="315.40" x2="457.6" y2="315.40" stroke="#555" stroke-width="0.45"/>
<rect x="453.85" y="314.65" width="1.5" height="1.5" fill="#1a1a1a"/>
<text x="478.0" y="316.2999999999998" font-size="2.7" fill="#777" text-anchor="middle">.02</text>
<text x="391.0" y="321.69999999999976" font-size="2.7" fill="#777" text-anchor="start">Non-Hispanic Black</text>
<text x="419.7" y="321.69999999999976" font-size="2.7" fill="#777" text-anchor="start">6625</text>
<line x1="388.0" y1="323.40" x2="431.5" y2="323.40" stroke="#c4c4c4" stroke-width="0.45"/>
<line x1="450.3" y1="320.80" x2="456.4" y2="320.80" stroke="#555" stroke-width="0.45"/>
<rect x="452.35" y="320.05" width="1.5" height="1.5" fill="#1a1a1a"/>
<text x="478.0" y="321.69999999999976" font-size="2.7" fill="#777" text-anchor="middle">.05</text>
<text x="495.4" y="321.69999999999976" font-size="2.7" fill="#777" text-anchor="middle">.74</text>
<text x="391.0" y="327.09999999999974" font-size="2.7" fill="#777" text-anchor="start">Hispanic</text>
<text x="419.7" y="327.09999999999974" font-size="2.7" fill="#777" text-anchor="start">8284</text>
<line x1="388.0" y1="328.80" x2="431.5" y2="328.80" stroke="#c4c4c4" stroke-width="0.45"/>
<line x1="451.6" y1="326.20" x2="459.5" y2="326.20" stroke="#555" stroke-width="0.45"/>
<rect x="454.85" y="325.45" width="1.5" height="1.5" fill="#1a1a1a"/>
<text x="478.0" y="327.09999999999974" font-size="2.7" fill="#777" text-anchor="middle">.07</text>
<text x="391.0" y="332.4999999999997" font-size="2.7" fill="#777" text-anchor="start">Other Race/Multi-Racial</text>
<text x="419.7" y="332.4999999999997" font-size="2.7" fill="#777" text-anchor="start">2862</text>
<line x1="388.0" y1="334.20" x2="431.5" y2="334.20" stroke="#c4c4c4" stroke-width="0.45"/>
<line x1="444.3" y1="331.60" x2="466.8" y2="331.60" stroke="#555" stroke-width="0.45"/>
<rect x="454.45" y="330.85" width="1.5" height="1.5" fill="#1a1a1a"/>
<text x="478.0" y="332.4999999999997" font-size="2.7" fill="#777" text-anchor="middle">.06</text>
<text x="388.8" y="337.8999999999997" font-size="2.7" font-weight="bold" fill="#444" text-anchor="start">Education</text>
<text x="391.0" y="343.29999999999967" font-size="2.7" fill="#777" text-anchor="start">≤High school</text>
<text x="419.7" y="343.29999999999967" font-size="2.7" fill="#777" text-anchor="start">14869</text>
<line x1="388.0" y1="345.00" x2="431.5" y2="345.00" stroke="#c4c4c4" stroke-width="0.45"/>
<line x1="452.3" y1="342.40" x2="456.6" y2="342.40" stroke="#555" stroke-width="0.45"/>
<rect x="452.85" y="341.65" width="1.5" height="1.5" fill="#1a1a1a"/>
<text x="478.0" y="343.29999999999967" font-size="2.7" fill="#777" text-anchor="middle">.15</text>
<text x="391.0" y="348.69999999999965" font-size="2.7" fill="#777" text-anchor="start">&gt;High school</text>
<text x="419.7" y="348.69999999999965" font-size="2.7" fill="#777" text-anchor="start">16482</text>
<line x1="388.0" y1="350.40" x2="431.5" y2="350.40" stroke="#c4c4c4" stroke-width="0.45"/>
<line x1="453.2" y1="347.80" x2="458.4" y2="347.80" stroke="#555" stroke-width="0.45"/>
<rect x="455.35" y="347.05" width="1.5" height="1.5" fill="#1a1a1a"/>
<text x="478.0" y="348.69999999999965" font-size="2.7" fill="#777" text-anchor="middle">.000</text>
<text x="495.4" y="348.69999999999965" font-size="2.7" fill="#777" text-anchor="middle">.03</text>
<text x="388.8" y="354.0999999999996" font-size="2.7" font-weight="bold" fill="#444" text-anchor="start">Family income to poverty ratio</text>
<text x="391.0" y="359.4999999999996" font-size="2.7" fill="#777" text-anchor="start">&lt;130%</text>
<text x="419.7" y="359.4999999999996" font-size="2.7" fill="#777" text-anchor="start">9136</text>
<line x1="388.0" y1="361.20" x2="431.5" y2="361.20" stroke="#c4c4c4" stroke-width="0.45"/>
<line x1="448.9" y1="358.60" x2="454.7" y2="358.60" stroke="#555" stroke-width="0.45"/>
<rect x="450.85" y="357.85" width="1.5" height="1.5" fill="#1a1a1a"/>
<text x="478.0" y="359.4999999999996" font-size="2.7" fill="#777" text-anchor="middle">.06</text>
<text x="391.0" y="364.8999999999996" font-size="2.7" fill="#777" text-anchor="start">130%-350%</text>
<text x="419.7" y="364.8999999999996" font-size="2.7" fill="#777" text-anchor="start">9064</text>
<line x1="388.0" y1="366.60" x2="431.5" y2="366.60" stroke="#c4c4c4" stroke-width="0.45"/>
<line x1="450.2" y1="364.00" x2="456.3" y2="364.00" stroke="#555" stroke-width="0.45"/>
<rect x="452.15" y="363.25" width="1.5" height="1.5" fill="#1a1a1a"/>
<text x="478.0" y="364.8999999999996" font-size="2.7" fill="#777" text-anchor="middle">.05</text>
<text x="495.4" y="364.8999999999996" font-size="2.7" fill="#777" text-anchor="middle">.23</text>
<text x="391.0" y="370.29999999999956" font-size="2.7" fill="#777" text-anchor="start">≥350%</text>
<text x="419.7" y="370.29999999999956" font-size="2.7" fill="#777" text-anchor="start">11148</text>
<line x1="388.0" y1="372.00" x2="431.5" y2="372.00" stroke="#c4c4c4" stroke-width="0.45"/>
<line x1="454.3" y1="369.40" x2="459.8" y2="369.40" stroke="#555" stroke-width="0.45"/>
<rect x="455.55" y="368.65" width="1.5" height="1.5" fill="#1a1a1a"/>
<text x="478.0" y="370.29999999999956" font-size="2.7" fill="#777" text-anchor="middle">&lt;.001</text>
<text x="388.8" y="375.69999999999953" font-size="2.7" font-weight="bold" fill="#444" text-anchor="start">Insurance</text>
<text x="391.0" y="381.0999999999995" font-size="2.7" fill="#777" text-anchor="start">Yes</text>
<text x="419.7" y="381.0999999999995" font-size="2.7" fill="#777" text-anchor="start">24038</text>
<line x1="388.0" y1="382.80" x2="431.5" y2="382.80" stroke="#c4c4c4" stroke-width="0.45"/>
<line x1="452.5" y1="380.20" x2="456.6" y2="380.20" stroke="#555" stroke-width="0.45"/>
<rect x="453.25" y="379.45" width="1.5" height="1.5" fill="#1a1a1a"/>
<text x="478.0" y="381.0999999999995" font-size="2.7" fill="#777" text-anchor="middle">.000</text>
<text x="495.4" y="381.0999999999995" font-size="2.7" fill="#777" text-anchor="middle">.20</text>
<text x="391.0" y="386.4999999999995" font-size="2.7" fill="#777" text-anchor="start">No</text>
<text x="419.7" y="386.4999999999995" font-size="2.7" fill="#777" text-anchor="start">7313</text>
<line x1="388.0" y1="388.20" x2="431.5" y2="388.20" stroke="#c4c4c4" stroke-width="0.45"/>
<line x1="449.8" y1="385.60" x2="460.4" y2="385.60" stroke="#555" stroke-width="0.45"/>
<rect x="453.85" y="384.85" width="1.5" height="1.5" fill="#1a1a1a"/>
<text x="478.0" y="386.4999999999995" font-size="2.7" fill="#777" text-anchor="middle">.27</text>
<line x1="438.3" y1="391.4" x2="473.3" y2="391.4" stroke="#444" stroke-width="0.45"/>
<line x1="438.3" y1="390.6" x2="438.3" y2="391.4" stroke="#444" stroke-width="0.35"/>
<text x="438.3" y="396.6" font-size="2.6" fill="#444" text-anchor="middle">0.1</text>
<line x1="448.6" y1="390.6" x2="448.6" y2="391.4" stroke="#444" stroke-width="0.35"/>
<text x="448.6" y="396.6" font-size="2.6" fill="#444" text-anchor="middle">0.5</text>
<line x1="452.2" y1="390.6" x2="452.2" y2="391.4" stroke="#444" stroke-width="0.35"/>
<text x="452.2" y="396.6" font-size="2.6" fill="#444" text-anchor="middle">1</text>
<line x1="456.4" y1="390.6" x2="456.4" y2="391.4" stroke="#444" stroke-width="0.35"/>
<text x="456.4" y="396.6" font-size="2.6" fill="#444" text-anchor="middle">2</text>
<line x1="460.6" y1="390.6" x2="460.6" y2="391.4" stroke="#444" stroke-width="0.35"/>
<text x="460.6" y="396.6" font-size="2.6" fill="#444" text-anchor="middle">4</text>
<line x1="464.8" y1="390.6" x2="464.8" y2="391.4" stroke="#444" stroke-width="0.35"/>
<text x="464.8" y="396.6" font-size="2.6" fill="#444" text-anchor="middle">6</text>
<line x1="469.1" y1="390.6" x2="469.1" y2="391.4" stroke="#444" stroke-width="0.35"/>
<text x="469.1" y="396.6" font-size="2.6" fill="#444" text-anchor="middle">10</text>
<line x1="473.3" y1="390.6" x2="473.3" y2="391.4" stroke="#444" stroke-width="0.35"/>
<text x="473.3" y="396.6" font-size="2.6" fill="#444" text-anchor="middle">20</text>
<text x="441.8" y="400.9" font-size="2.8" font-weight="bold" fill="#333" text-anchor="start" textLength="27.3" lengthAdjust="spacingAndGlyphs">Hazard ratio [95% CI]</text>
<rect x="2.9" y="2.5" width="513.9" height="405.0" fill="none" stroke="#2f5858" stroke-width="1.7"/>
</svg>
</body></html>
